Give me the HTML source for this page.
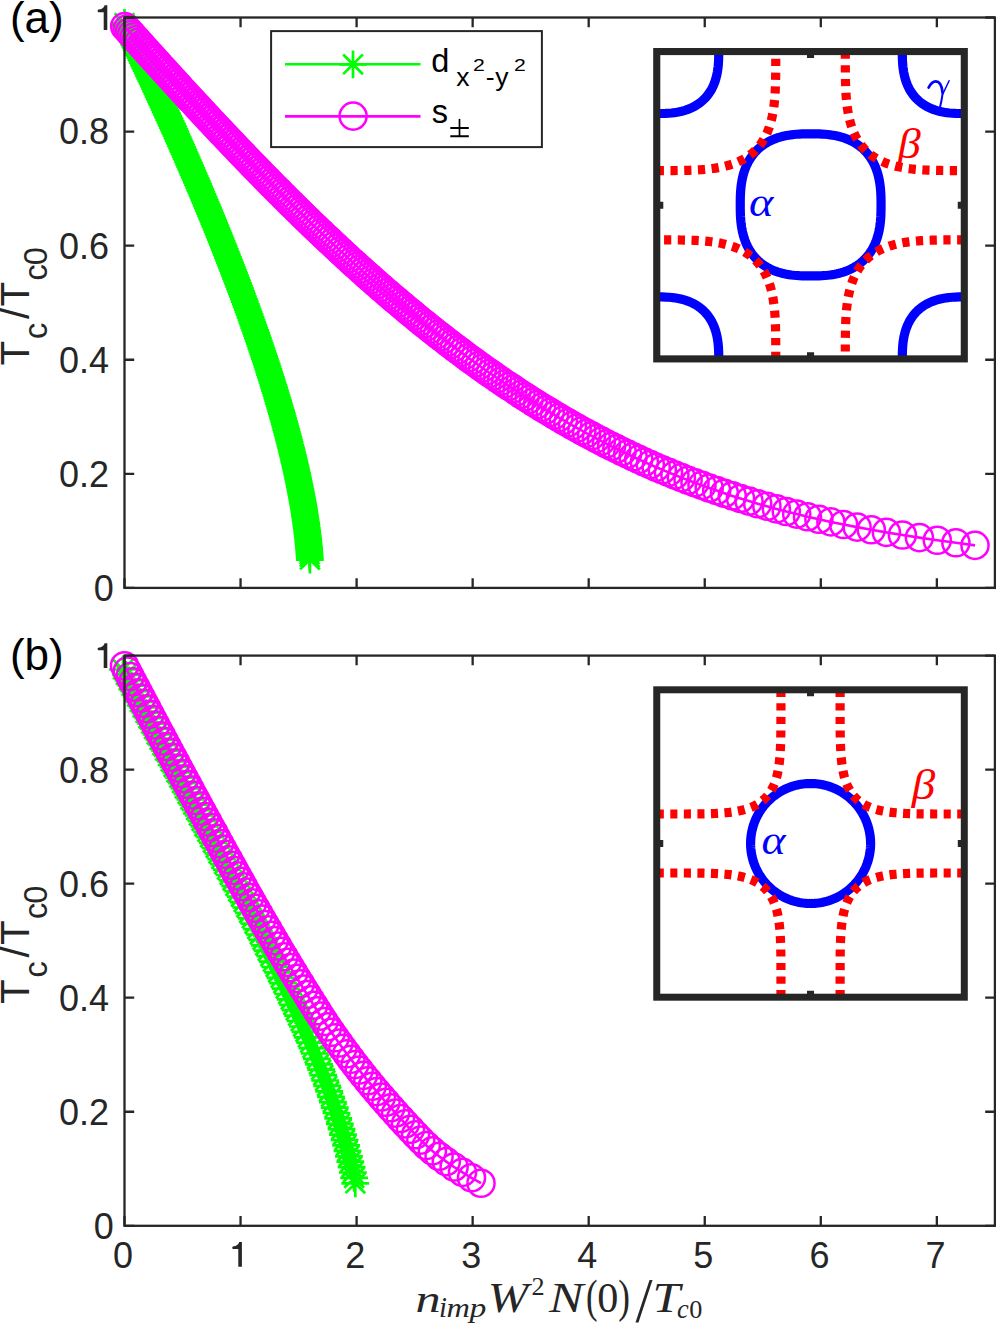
<!DOCTYPE html><html><head><meta charset="utf-8"><style>html,body{margin:0;padding:0;background:#fff}svg{display:block}</style></head><body><svg width="996" height="1323" viewBox="0 0 996 1323">
<rect width="996" height="1323" fill="#fff"/>
<text x="113.9" y="600.80" text-anchor="end" font-family="Liberation Sans, sans-serif" font-size="36" fill="#262626">0</text>
<text x="109.0" y="486.72" text-anchor="end" font-family="Liberation Sans, sans-serif" font-size="36" fill="#262626">0.2</text>
<text x="109.0" y="372.64" text-anchor="end" font-family="Liberation Sans, sans-serif" font-size="36" fill="#262626">0.4</text>
<text x="109.0" y="258.56" text-anchor="end" font-family="Liberation Sans, sans-serif" font-size="36" fill="#262626">0.6</text>
<text x="109.0" y="144.48" text-anchor="end" font-family="Liberation Sans, sans-serif" font-size="36" fill="#262626">0.8</text>
<path d="M107.30 5.20h-2.7q-0.9 3.9 -6.3 4.4q-0.65 0.1 -0.65 1.3q0 1.3 0.9 1.3h5.15V29.90H107.30Z" fill="#262626"/>
<path d="M124.5 23.0L125.7 25.6L126.9 28.2L128.2 30.8L129.4 33.4L130.6 36.0L131.9 38.6L133.1 41.2L134.4 43.8L135.6 46.4L136.8 49.0L138.1 51.7L139.3 54.3L140.5 56.9L141.8 59.5L143.0 62.1L144.2 64.7L145.4 67.3L146.6 69.9L147.9 72.5L149.1 75.1L150.3 77.7L151.5 80.3L152.7 82.9L153.9 85.5L155.1 88.1L156.3 90.7L157.5 93.3L158.7 95.9L159.9 98.5L161.1 101.1L162.3 103.8L163.5 106.4L164.7 109.0L165.9 111.6L167.0 114.2L168.2 116.8L169.4 119.4L170.6 122.0L171.7 124.6L172.9 127.2L174.1 129.8L175.2 132.4L176.4 135.0L177.6 137.6L178.7 140.2L179.9 142.8L181.0 145.4L182.2 148.0L183.3 150.6L184.5 153.2L185.6 155.8L186.7 158.5L187.9 161.1L189.0 163.7L190.1 166.3L191.3 168.9L192.4 171.5L193.5 174.1L194.6 176.7L195.8 179.3L196.9 181.9L198.0 184.5L199.1 187.1L200.2 189.7L201.3 192.3L202.4 194.9L203.5 197.5L204.6 200.1L205.7 202.7L206.8 205.3L207.9 207.9L209.0 210.5L210.0 213.2L211.1 215.8L212.2 218.4L213.3 221.0L214.3 223.6L215.4 226.2L216.5 228.8L217.5 231.4L218.6 234.0L219.6 236.6L220.7 239.2L221.7 241.8L222.8 244.4L223.8 247.0L224.8 249.6L225.9 252.2L226.9 254.8L227.9 257.4L229.0 260.0L230.0 262.6L231.0 265.3L232.0 267.9L233.0 270.5L234.0 273.1L235.0 275.7L236.0 278.3L237.0 280.9L238.0 283.5L239.0 286.1L240.0 288.7L241.0 291.3L241.9 293.9L242.9 296.5L243.9 299.1L244.8 301.7L245.8 304.3L246.7 306.9L247.7 309.5L248.6 312.1L249.6 314.7L250.5 317.3L251.5 320.0L252.4 322.6L253.3 325.2L254.2 327.8L255.2 330.4L256.1 333.0L257.0 335.6L257.9 338.2L258.8 340.8L259.7 343.4L260.6 346.0L261.4 348.6L262.3 351.2L263.2 353.8L264.1 356.4L264.9 359.0L265.8 361.6L266.7 364.2L267.5 366.8L268.4 369.4L269.2 372.1L270.0 374.7L270.9 377.3L271.7 379.9L272.5 382.5L273.3 385.1L274.1 387.7L274.9 390.3L275.7 392.9L276.5 395.5L277.3 398.1L278.1 400.7L278.8 403.3L279.6 405.9L280.4 408.5L281.1 411.1L281.9 413.7L282.6 416.3L283.3 418.9L284.1 421.5L284.8 424.1L285.5 426.8L286.2 429.4L286.9 432.0L287.6 434.6L288.3 437.2L289.0 439.8L289.6 442.4L290.3 445.0L291.0 447.6L291.6 450.2L292.2 452.8L292.9 455.4L293.5 458.0L294.1 460.6L294.7 463.2L295.3 465.8L295.9 468.4L296.5 471.0L297.1 473.6L297.6 476.2L298.2 478.8L298.7 481.5L299.3 484.1L299.8 486.7L300.3 489.3L300.8 491.9L301.3 494.5L301.8 497.1L302.3 499.7L302.8 502.3L303.2 504.9L303.7 507.5L304.1 510.1L304.5 512.7L304.9 515.3L305.3 517.9L305.7 520.5L306.1 523.1L306.4 525.7L306.8 528.3L307.1 530.9L307.4 533.6L307.8 536.2L308.1 538.8L308.3 541.4L308.6 544.0L308.9 546.6L309.1 549.2L309.3 551.8L309.5 554.4L309.7 557.0L309.9 559.6" fill="none" stroke="#00ff00" stroke-width="2.6" stroke-linejoin="round"/>
<path d="M110.6 23.0h27.8M124.5 9.1v27.8M114.7 13.2l19.7 19.7M114.7 32.8l19.7 -19.7M111.8 25.6h27.8M125.7 11.7v27.8M115.8 15.8l19.7 19.7M115.8 35.4l19.7 -19.7M113.0 28.2h27.8M126.9 14.3v27.8M117.1 18.4l19.7 19.7M117.1 38.0l19.7 -19.7M114.3 30.8h27.8M128.2 16.9v27.8M118.3 21.0l19.7 19.7M118.3 40.6l19.7 -19.7M115.5 33.4h27.8M129.4 19.5v27.8M119.6 23.6l19.7 19.7M119.6 43.2l19.7 -19.7M116.7 36.0h27.8M130.6 22.1v27.8M120.8 26.2l19.7 19.7M120.8 45.9l19.7 -19.7M118.0 38.6h27.8M131.9 24.7v27.8M122.1 28.8l19.7 19.7M122.1 48.5l19.7 -19.7M119.2 41.2h27.8M133.1 27.3v27.8M123.3 31.4l19.7 19.7M123.3 51.1l19.7 -19.7M120.5 43.8h27.8M134.4 29.9v27.8M124.5 34.0l19.7 19.7M124.5 53.7l19.7 -19.7M121.7 46.4h27.8M135.6 32.5v27.8M125.8 36.6l19.7 19.7M125.8 56.3l19.7 -19.7M122.9 49.0h27.8M136.8 35.1v27.8M127.0 39.2l19.7 19.7M127.0 58.9l19.7 -19.7M124.2 51.7h27.8M138.1 37.8v27.8M128.2 41.8l19.7 19.7M128.2 61.5l19.7 -19.7M125.4 54.3h27.8M139.3 40.4v27.8M129.5 44.4l19.7 19.7M129.5 64.1l19.7 -19.7M126.6 56.9h27.8M140.5 43.0v27.8M130.7 47.0l19.7 19.7M130.7 66.7l19.7 -19.7M127.9 59.5h27.8M141.8 45.6v27.8M131.9 49.6l19.7 19.7M131.9 69.3l19.7 -19.7M129.1 62.1h27.8M143.0 48.2v27.8M133.2 52.2l19.7 19.7M133.2 71.9l19.7 -19.7M130.3 64.7h27.8M144.2 50.8v27.8M134.4 54.8l19.7 19.7M134.4 74.5l19.7 -19.7M131.5 67.3h27.8M145.4 53.4v27.8M135.6 57.5l19.7 19.7M135.6 77.1l19.7 -19.7M132.7 69.9h27.8M146.6 56.0v27.8M136.8 60.1l19.7 19.7M136.8 79.7l19.7 -19.7M134.0 72.5h27.8M147.9 58.6v27.8M138.0 62.7l19.7 19.7M138.0 82.3l19.7 -19.7M135.2 75.1h27.8M149.1 61.2v27.8M139.3 65.3l19.7 19.7M139.3 84.9l19.7 -19.7M136.4 77.7h27.8M150.3 63.8v27.8M140.5 67.9l19.7 19.7M140.5 87.5l19.7 -19.7M137.6 80.3h27.8M151.5 66.4v27.8M141.7 70.5l19.7 19.7M141.7 90.1l19.7 -19.7M138.8 82.9h27.8M152.7 69.0v27.8M142.9 73.1l19.7 19.7M142.9 92.7l19.7 -19.7M140.0 85.5h27.8M153.9 71.6v27.8M144.1 75.7l19.7 19.7M144.1 95.3l19.7 -19.7M141.2 88.1h27.8M155.1 74.2v27.8M145.3 78.3l19.7 19.7M145.3 98.0l19.7 -19.7M142.4 90.7h27.8M156.3 76.8v27.8M146.5 80.9l19.7 19.7M146.5 100.6l19.7 -19.7M143.6 93.3h27.8M157.5 79.4v27.8M147.7 83.5l19.7 19.7M147.7 103.2l19.7 -19.7M144.8 95.9h27.8M158.7 82.0v27.8M148.9 86.1l19.7 19.7M148.9 105.8l19.7 -19.7M146.0 98.5h27.8M159.9 84.6v27.8M150.1 88.7l19.7 19.7M150.1 108.4l19.7 -19.7M147.2 101.1h27.8M161.1 87.2v27.8M151.3 91.3l19.7 19.7M151.3 111.0l19.7 -19.7M148.4 103.8h27.8M162.3 89.9v27.8M152.5 93.9l19.7 19.7M152.5 113.6l19.7 -19.7M149.6 106.4h27.8M163.5 92.5v27.8M153.7 96.5l19.7 19.7M153.7 116.2l19.7 -19.7M150.8 109.0h27.8M164.7 95.1v27.8M154.8 99.1l19.7 19.7M154.8 118.8l19.7 -19.7M152.0 111.6h27.8M165.9 97.7v27.8M156.0 101.7l19.7 19.7M156.0 121.4l19.7 -19.7M153.1 114.2h27.8M167.0 100.3v27.8M157.2 104.3l19.7 19.7M157.2 124.0l19.7 -19.7M154.3 116.8h27.8M168.2 102.9v27.8M158.4 106.9l19.7 19.7M158.4 126.6l19.7 -19.7M155.5 119.4h27.8M169.4 105.5v27.8M159.6 109.6l19.7 19.7M159.6 129.2l19.7 -19.7M156.7 122.0h27.8M170.6 108.1v27.8M160.7 112.2l19.7 19.7M160.7 131.8l19.7 -19.7M157.8 124.6h27.8M171.7 110.7v27.8M161.9 114.8l19.7 19.7M161.9 134.4l19.7 -19.7M159.0 127.2h27.8M172.9 113.3v27.8M163.1 117.4l19.7 19.7M163.1 137.0l19.7 -19.7M160.2 129.8h27.8M174.1 115.9v27.8M164.2 120.0l19.7 19.7M164.2 139.6l19.7 -19.7M161.3 132.4h27.8M175.2 118.5v27.8M165.4 122.6l19.7 19.7M165.4 142.2l19.7 -19.7M162.5 135.0h27.8M176.4 121.1v27.8M166.6 125.2l19.7 19.7M166.6 144.8l19.7 -19.7M163.7 137.6h27.8M177.6 123.7v27.8M167.7 127.8l19.7 19.7M167.7 147.4l19.7 -19.7M164.8 140.2h27.8M178.7 126.3v27.8M168.9 130.4l19.7 19.7M168.9 150.0l19.7 -19.7M166.0 142.8h27.8M179.9 128.9v27.8M170.0 133.0l19.7 19.7M170.0 152.7l19.7 -19.7M167.1 145.4h27.8M181.0 131.5v27.8M171.2 135.6l19.7 19.7M171.2 155.3l19.7 -19.7M168.3 148.0h27.8M182.2 134.1v27.8M172.3 138.2l19.7 19.7M172.3 157.9l19.7 -19.7M169.4 150.6h27.8M183.3 136.7v27.8M173.5 140.8l19.7 19.7M173.5 160.5l19.7 -19.7M170.6 153.2h27.8M184.5 139.3v27.8M174.6 143.4l19.7 19.7M174.6 163.1l19.7 -19.7M171.7 155.8h27.8M185.6 141.9v27.8M175.8 146.0l19.7 19.7M175.8 165.7l19.7 -19.7M172.8 158.5h27.8M186.7 144.6v27.8M176.9 148.6l19.7 19.7M176.9 168.3l19.7 -19.7M174.0 161.1h27.8M187.9 147.2v27.8M178.0 151.2l19.7 19.7M178.0 170.9l19.7 -19.7M175.1 163.7h27.8M189.0 149.8v27.8M179.2 153.8l19.7 19.7M179.2 173.5l19.7 -19.7M176.2 166.3h27.8M190.1 152.4v27.8M180.3 156.4l19.7 19.7M180.3 176.1l19.7 -19.7M177.4 168.9h27.8M191.3 155.0v27.8M181.4 159.0l19.7 19.7M181.4 178.7l19.7 -19.7M178.5 171.5h27.8M192.4 157.6v27.8M182.6 161.6l19.7 19.7M182.6 181.3l19.7 -19.7M179.6 174.1h27.8M193.5 160.2v27.8M183.7 164.3l19.7 19.7M183.7 183.9l19.7 -19.7M180.7 176.7h27.8M194.6 162.8v27.8M184.8 166.9l19.7 19.7M184.8 186.5l19.7 -19.7M181.9 179.3h27.8M195.8 165.4v27.8M185.9 169.5l19.7 19.7M185.9 189.1l19.7 -19.7M183.0 181.9h27.8M196.9 168.0v27.8M187.0 172.1l19.7 19.7M187.0 191.7l19.7 -19.7M184.1 184.5h27.8M198.0 170.6v27.8M188.2 174.7l19.7 19.7M188.2 194.3l19.7 -19.7M185.2 187.1h27.8M199.1 173.2v27.8M189.3 177.3l19.7 19.7M189.3 196.9l19.7 -19.7M186.3 189.7h27.8M200.2 175.8v27.8M190.4 179.9l19.7 19.7M190.4 199.5l19.7 -19.7M187.4 192.3h27.8M201.3 178.4v27.8M191.5 182.5l19.7 19.7M191.5 202.1l19.7 -19.7M188.5 194.9h27.8M202.4 181.0v27.8M192.6 185.1l19.7 19.7M192.6 204.7l19.7 -19.7M189.6 197.5h27.8M203.5 183.6v27.8M193.7 187.7l19.7 19.7M193.7 207.4l19.7 -19.7M190.7 200.1h27.8M204.6 186.2v27.8M194.8 190.3l19.7 19.7M194.8 210.0l19.7 -19.7M191.8 202.7h27.8M205.7 188.8v27.8M195.9 192.9l19.7 19.7M195.9 212.6l19.7 -19.7M192.9 205.3h27.8M206.8 191.4v27.8M197.0 195.5l19.7 19.7M197.0 215.2l19.7 -19.7M194.0 207.9h27.8M207.9 194.0v27.8M198.0 198.1l19.7 19.7M198.0 217.8l19.7 -19.7M195.1 210.5h27.8M209.0 196.6v27.8M199.1 200.7l19.7 19.7M199.1 220.4l19.7 -19.7M196.1 213.2h27.8M210.0 199.3v27.8M200.2 203.3l19.7 19.7M200.2 223.0l19.7 -19.7M197.2 215.8h27.8M211.1 201.9v27.8M201.3 205.9l19.7 19.7M201.3 225.6l19.7 -19.7M198.3 218.4h27.8M212.2 204.5v27.8M202.4 208.5l19.7 19.7M202.4 228.2l19.7 -19.7M199.4 221.0h27.8M213.3 207.1v27.8M203.4 211.1l19.7 19.7M203.4 230.8l19.7 -19.7M200.4 223.6h27.8M214.3 209.7v27.8M204.5 213.7l19.7 19.7M204.5 233.4l19.7 -19.7M201.5 226.2h27.8M215.4 212.3v27.8M205.6 216.3l19.7 19.7M205.6 236.0l19.7 -19.7M202.6 228.8h27.8M216.5 214.9v27.8M206.6 219.0l19.7 19.7M206.6 238.6l19.7 -19.7M203.6 231.4h27.8M217.5 217.5v27.8M207.7 221.6l19.7 19.7M207.7 241.2l19.7 -19.7M204.7 234.0h27.8M218.6 220.1v27.8M208.7 224.2l19.7 19.7M208.7 243.8l19.7 -19.7M205.7 236.6h27.8M219.6 222.7v27.8M209.8 226.8l19.7 19.7M209.8 246.4l19.7 -19.7M206.8 239.2h27.8M220.7 225.3v27.8M210.8 229.4l19.7 19.7M210.8 249.0l19.7 -19.7M207.8 241.8h27.8M221.7 227.9v27.8M211.9 232.0l19.7 19.7M211.9 251.6l19.7 -19.7M208.9 244.4h27.8M222.8 230.5v27.8M212.9 234.6l19.7 19.7M212.9 254.2l19.7 -19.7M209.9 247.0h27.8M223.8 233.1v27.8M214.0 237.2l19.7 19.7M214.0 256.8l19.7 -19.7M210.9 249.6h27.8M224.8 235.7v27.8M215.0 239.8l19.7 19.7M215.0 259.5l19.7 -19.7M212.0 252.2h27.8M225.9 238.3v27.8M216.0 242.4l19.7 19.7M216.0 262.1l19.7 -19.7M213.0 254.8h27.8M226.9 240.9v27.8M217.1 245.0l19.7 19.7M217.1 264.7l19.7 -19.7M214.0 257.4h27.8M227.9 243.5v27.8M218.1 247.6l19.7 19.7M218.1 267.3l19.7 -19.7M215.1 260.0h27.8M229.0 246.1v27.8M219.1 250.2l19.7 19.7M219.1 269.9l19.7 -19.7M216.1 262.6h27.8M230.0 248.7v27.8M220.1 252.8l19.7 19.7M220.1 272.5l19.7 -19.7M217.1 265.3h27.8M231.0 251.4v27.8M221.2 255.4l19.7 19.7M221.2 275.1l19.7 -19.7M218.1 267.9h27.8M232.0 254.0v27.8M222.2 258.0l19.7 19.7M222.2 277.7l19.7 -19.7M219.1 270.5h27.8M233.0 256.6v27.8M223.2 260.6l19.7 19.7M223.2 280.3l19.7 -19.7M220.1 273.1h27.8M234.0 259.2v27.8M224.2 263.2l19.7 19.7M224.2 282.9l19.7 -19.7M221.1 275.7h27.8M235.0 261.8v27.8M225.2 265.8l19.7 19.7M225.2 285.5l19.7 -19.7M222.1 278.3h27.8M236.0 264.4v27.8M226.2 268.4l19.7 19.7M226.2 288.1l19.7 -19.7M223.1 280.9h27.8M237.0 267.0v27.8M227.2 271.1l19.7 19.7M227.2 290.7l19.7 -19.7M224.1 283.5h27.8M238.0 269.6v27.8M228.2 273.7l19.7 19.7M228.2 293.3l19.7 -19.7M225.1 286.1h27.8M239.0 272.2v27.8M229.2 276.3l19.7 19.7M229.2 295.9l19.7 -19.7M226.1 288.7h27.8M240.0 274.8v27.8M230.1 278.9l19.7 19.7M230.1 298.5l19.7 -19.7M227.1 291.3h27.8M241.0 277.4v27.8M231.1 281.5l19.7 19.7M231.1 301.1l19.7 -19.7M228.0 293.9h27.8M241.9 280.0v27.8M232.1 284.1l19.7 19.7M232.1 303.7l19.7 -19.7M229.0 296.5h27.8M242.9 282.6v27.8M233.1 286.7l19.7 19.7M233.1 306.3l19.7 -19.7M230.0 299.1h27.8M243.9 285.2v27.8M234.0 289.3l19.7 19.7M234.0 308.9l19.7 -19.7M230.9 301.7h27.8M244.8 287.8v27.8M235.0 291.9l19.7 19.7M235.0 311.5l19.7 -19.7M231.9 304.3h27.8M245.8 290.4v27.8M236.0 294.5l19.7 19.7M236.0 314.2l19.7 -19.7M232.8 306.9h27.8M246.7 293.0v27.8M236.9 297.1l19.7 19.7M236.9 316.8l19.7 -19.7M233.8 309.5h27.8M247.7 295.6v27.8M237.9 299.7l19.7 19.7M237.9 319.4l19.7 -19.7M234.7 312.1h27.8M248.6 298.2v27.8M238.8 302.3l19.7 19.7M238.8 322.0l19.7 -19.7M235.7 314.7h27.8M249.6 300.8v27.8M239.8 304.9l19.7 19.7M239.8 324.6l19.7 -19.7M236.6 317.3h27.8M250.5 303.4v27.8M240.7 307.5l19.7 19.7M240.7 327.2l19.7 -19.7M237.6 320.0h27.8M251.5 306.1v27.8M241.6 310.1l19.7 19.7M241.6 329.8l19.7 -19.7M238.5 322.6h27.8M252.4 308.7v27.8M242.6 312.7l19.7 19.7M242.6 332.4l19.7 -19.7M239.4 325.2h27.8M253.3 311.3v27.8M243.5 315.3l19.7 19.7M243.5 335.0l19.7 -19.7M240.3 327.8h27.8M254.2 313.9v27.8M244.4 317.9l19.7 19.7M244.4 337.6l19.7 -19.7M241.3 330.4h27.8M255.2 316.5v27.8M245.3 320.5l19.7 19.7M245.3 340.2l19.7 -19.7M242.2 333.0h27.8M256.1 319.1v27.8M246.2 323.1l19.7 19.7M246.2 342.8l19.7 -19.7M243.1 335.6h27.8M257.0 321.7v27.8M247.1 325.8l19.7 19.7M247.1 345.4l19.7 -19.7M244.0 338.2h27.8M257.9 324.3v27.8M248.1 328.4l19.7 19.7M248.1 348.0l19.7 -19.7M244.9 340.8h27.8M258.8 326.9v27.8M249.0 331.0l19.7 19.7M249.0 350.6l19.7 -19.7M245.8 343.4h27.8M259.7 329.5v27.8M249.8 333.6l19.7 19.7M249.8 353.2l19.7 -19.7M246.7 346.0h27.8M260.6 332.1v27.8M250.7 336.2l19.7 19.7M250.7 355.8l19.7 -19.7M247.5 348.6h27.8M261.4 334.7v27.8M251.6 338.8l19.7 19.7M251.6 358.4l19.7 -19.7M248.4 351.2h27.8M262.3 337.3v27.8M252.5 341.4l19.7 19.7M252.5 361.0l19.7 -19.7M249.3 353.8h27.8M263.2 339.9v27.8M253.4 344.0l19.7 19.7M253.4 363.6l19.7 -19.7M250.2 356.4h27.8M264.1 342.5v27.8M254.2 346.6l19.7 19.7M254.2 366.3l19.7 -19.7M251.0 359.0h27.8M264.9 345.1v27.8M255.1 349.2l19.7 19.7M255.1 368.9l19.7 -19.7M251.9 361.6h27.8M265.8 347.7v27.8M256.0 351.8l19.7 19.7M256.0 371.5l19.7 -19.7M252.8 364.2h27.8M266.7 350.3v27.8M256.8 354.4l19.7 19.7M256.8 374.1l19.7 -19.7M253.6 366.8h27.8M267.5 352.9v27.8M257.7 357.0l19.7 19.7M257.7 376.7l19.7 -19.7M254.5 369.4h27.8M268.4 355.5v27.8M258.5 359.6l19.7 19.7M258.5 379.3l19.7 -19.7M255.3 372.1h27.8M269.2 358.2v27.8M259.4 362.2l19.7 19.7M259.4 381.9l19.7 -19.7M256.1 374.7h27.8M270.0 360.8v27.8M260.2 364.8l19.7 19.7M260.2 384.5l19.7 -19.7M257.0 377.3h27.8M270.9 363.4v27.8M261.0 367.4l19.7 19.7M261.0 387.1l19.7 -19.7M257.8 379.9h27.8M271.7 366.0v27.8M261.9 370.0l19.7 19.7M261.9 389.7l19.7 -19.7M258.6 382.5h27.8M272.5 368.6v27.8M262.7 372.6l19.7 19.7M262.7 392.3l19.7 -19.7M259.4 385.1h27.8M273.3 371.2v27.8M263.5 375.2l19.7 19.7M263.5 394.9l19.7 -19.7M260.2 387.7h27.8M274.1 373.8v27.8M264.3 377.9l19.7 19.7M264.3 397.5l19.7 -19.7M261.0 390.3h27.8M274.9 376.4v27.8M265.1 380.5l19.7 19.7M265.1 400.1l19.7 -19.7M261.8 392.9h27.8M275.7 379.0v27.8M265.9 383.1l19.7 19.7M265.9 402.7l19.7 -19.7M262.6 395.5h27.8M276.5 381.6v27.8M266.7 385.7l19.7 19.7M266.7 405.3l19.7 -19.7M263.4 398.1h27.8M277.3 384.2v27.8M267.5 388.3l19.7 19.7M267.5 407.9l19.7 -19.7M264.2 400.7h27.8M278.1 386.8v27.8M268.2 390.9l19.7 19.7M268.2 410.5l19.7 -19.7M264.9 403.3h27.8M278.8 389.4v27.8M269.0 393.5l19.7 19.7M269.0 413.1l19.7 -19.7M265.7 405.9h27.8M279.6 392.0v27.8M269.8 396.1l19.7 19.7M269.8 415.7l19.7 -19.7M266.5 408.5h27.8M280.4 394.6v27.8M270.5 398.7l19.7 19.7M270.5 418.3l19.7 -19.7M267.2 411.1h27.8M281.1 397.2v27.8M271.3 401.3l19.7 19.7M271.3 421.0l19.7 -19.7M268.0 413.7h27.8M281.9 399.8v27.8M272.0 403.9l19.7 19.7M272.0 423.6l19.7 -19.7M268.7 416.3h27.8M282.6 402.4v27.8M272.8 406.5l19.7 19.7M272.8 426.2l19.7 -19.7M269.4 418.9h27.8M283.3 405.0v27.8M273.5 409.1l19.7 19.7M273.5 428.8l19.7 -19.7M270.2 421.5h27.8M284.1 407.6v27.8M274.2 411.7l19.7 19.7M274.2 431.4l19.7 -19.7M270.9 424.1h27.8M284.8 410.2v27.8M275.0 414.3l19.7 19.7M275.0 434.0l19.7 -19.7M271.6 426.8h27.8M285.5 412.9v27.8M275.7 416.9l19.7 19.7M275.7 436.6l19.7 -19.7M272.3 429.4h27.8M286.2 415.5v27.8M276.4 419.5l19.7 19.7M276.4 439.2l19.7 -19.7M273.0 432.0h27.8M286.9 418.1v27.8M277.1 422.1l19.7 19.7M277.1 441.8l19.7 -19.7M273.7 434.6h27.8M287.6 420.7v27.8M277.8 424.7l19.7 19.7M277.8 444.4l19.7 -19.7M274.4 437.2h27.8M288.3 423.3v27.8M278.5 427.3l19.7 19.7M278.5 447.0l19.7 -19.7M275.1 439.8h27.8M289.0 425.9v27.8M279.1 429.9l19.7 19.7M279.1 449.6l19.7 -19.7M275.7 442.4h27.8M289.6 428.5v27.8M279.8 432.6l19.7 19.7M279.8 452.2l19.7 -19.7M276.4 445.0h27.8M290.3 431.1v27.8M280.5 435.2l19.7 19.7M280.5 454.8l19.7 -19.7M277.1 447.6h27.8M291.0 433.7v27.8M281.1 437.8l19.7 19.7M281.1 457.4l19.7 -19.7M277.7 450.2h27.8M291.6 436.3v27.8M281.8 440.4l19.7 19.7M281.8 460.0l19.7 -19.7M278.3 452.8h27.8M292.2 438.9v27.8M282.4 443.0l19.7 19.7M282.4 462.6l19.7 -19.7M279.0 455.4h27.8M292.9 441.5v27.8M283.1 445.6l19.7 19.7M283.1 465.2l19.7 -19.7M279.6 458.0h27.8M293.5 444.1v27.8M283.7 448.2l19.7 19.7M283.7 467.8l19.7 -19.7M280.2 460.6h27.8M294.1 446.7v27.8M284.3 450.8l19.7 19.7M284.3 470.4l19.7 -19.7M280.8 463.2h27.8M294.7 449.3v27.8M284.9 453.4l19.7 19.7M284.9 473.0l19.7 -19.7M281.4 465.8h27.8M295.3 451.9v27.8M285.5 456.0l19.7 19.7M285.5 475.7l19.7 -19.7M282.0 468.4h27.8M295.9 454.5v27.8M286.1 458.6l19.7 19.7M286.1 478.3l19.7 -19.7M282.6 471.0h27.8M296.5 457.1v27.8M286.7 461.2l19.7 19.7M286.7 480.9l19.7 -19.7M283.2 473.6h27.8M297.1 459.7v27.8M287.2 463.8l19.7 19.7M287.2 483.5l19.7 -19.7M283.7 476.2h27.8M297.6 462.3v27.8M287.8 466.4l19.7 19.7M287.8 486.1l19.7 -19.7M284.3 478.8h27.8M298.2 464.9v27.8M288.4 469.0l19.7 19.7M288.4 488.7l19.7 -19.7M284.8 481.5h27.8M298.7 467.6v27.8M288.9 471.6l19.7 19.7M288.9 491.3l19.7 -19.7M285.4 484.1h27.8M299.3 470.2v27.8M289.4 474.2l19.7 19.7M289.4 493.9l19.7 -19.7M285.9 486.7h27.8M299.8 472.8v27.8M290.0 476.8l19.7 19.7M290.0 496.5l19.7 -19.7M286.4 489.3h27.8M300.3 475.4v27.8M290.5 479.4l19.7 19.7M290.5 499.1l19.7 -19.7M286.9 491.9h27.8M300.8 478.0v27.8M291.0 482.0l19.7 19.7M291.0 501.7l19.7 -19.7M287.4 494.5h27.8M301.3 480.6v27.8M291.5 484.6l19.7 19.7M291.5 504.3l19.7 -19.7M287.9 497.1h27.8M301.8 483.2v27.8M292.0 487.3l19.7 19.7M292.0 506.9l19.7 -19.7M288.4 499.7h27.8M302.3 485.8v27.8M292.5 489.9l19.7 19.7M292.5 509.5l19.7 -19.7M288.9 502.3h27.8M302.8 488.4v27.8M292.9 492.5l19.7 19.7M292.9 512.1l19.7 -19.7M289.3 504.9h27.8M303.2 491.0v27.8M293.4 495.1l19.7 19.7M293.4 514.7l19.7 -19.7M289.8 507.5h27.8M303.7 493.6v27.8M293.8 497.7l19.7 19.7M293.8 517.3l19.7 -19.7M290.2 510.1h27.8M304.1 496.2v27.8M294.3 500.3l19.7 19.7M294.3 519.9l19.7 -19.7M290.6 512.7h27.8M304.5 498.8v27.8M294.7 502.9l19.7 19.7M294.7 522.5l19.7 -19.7M291.0 515.3h27.8M304.9 501.4v27.8M295.1 505.5l19.7 19.7M295.1 525.1l19.7 -19.7M291.4 517.9h27.8M305.3 504.0v27.8M295.5 508.1l19.7 19.7M295.5 527.8l19.7 -19.7M291.8 520.5h27.8M305.7 506.6v27.8M295.9 510.7l19.7 19.7M295.9 530.4l19.7 -19.7M292.2 523.1h27.8M306.1 509.2v27.8M296.2 513.3l19.7 19.7M296.2 533.0l19.7 -19.7M292.5 525.7h27.8M306.4 511.8v27.8M296.6 515.9l19.7 19.7M296.6 535.6l19.7 -19.7M292.9 528.3h27.8M306.8 514.4v27.8M297.0 518.5l19.7 19.7M297.0 538.2l19.7 -19.7M293.2 530.9h27.8M307.1 517.0v27.8M297.3 521.1l19.7 19.7M297.3 540.8l19.7 -19.7M293.5 533.6h27.8M307.4 519.7v27.8M297.6 523.7l19.7 19.7M297.6 543.4l19.7 -19.7M293.9 536.2h27.8M307.8 522.3v27.8M297.9 526.3l19.7 19.7M297.9 546.0l19.7 -19.7M294.2 538.8h27.8M308.1 524.9v27.8M298.2 528.9l19.7 19.7M298.2 548.6l19.7 -19.7M294.4 541.4h27.8M308.3 527.5v27.8M298.5 531.5l19.7 19.7M298.5 551.2l19.7 -19.7M294.7 544.0h27.8M308.6 530.1v27.8M298.8 534.1l19.7 19.7M298.8 553.8l19.7 -19.7M295.0 546.6h27.8M308.9 532.7v27.8M299.0 536.7l19.7 19.7M299.0 556.4l19.7 -19.7M295.2 549.2h27.8M309.1 535.3v27.8M299.3 539.4l19.7 19.7M299.3 559.0l19.7 -19.7M295.4 551.8h27.8M309.3 537.9v27.8M299.5 542.0l19.7 19.7M299.5 561.6l19.7 -19.7M295.6 554.4h27.8M309.5 540.5v27.8M299.7 544.6l19.7 19.7M299.7 564.2l19.7 -19.7M295.8 557.0h27.8M309.7 543.1v27.8M299.9 547.2l19.7 19.7M299.9 566.8l19.7 -19.7M296.0 559.6h27.8M309.9 545.7v27.8M300.1 549.8l19.7 19.7M300.1 569.4l19.7 -19.7" fill="none" stroke="#00ff00" stroke-width="2.7"/>
<path d="M124.7 26.5L127.0 29.1L129.4 31.7L131.7 34.3L134.0 36.9L136.4 39.5L138.7 42.1L141.1 44.8L143.4 47.4L145.8 50.0L148.1 52.6L150.5 55.2L152.8 57.8L155.2 60.4L157.6 63.0L159.9 65.6L162.3 68.2L164.7 70.8L167.0 73.4L169.4 76.0L171.8 78.7L174.2 81.3L176.6 83.9L179.0 86.5L181.3 89.1L183.7 91.7L186.1 94.3L188.5 96.9L190.9 99.5L193.4 102.1L195.8 104.7L198.2 107.3L200.6 109.9L203.0 112.5L205.5 115.2L207.9 117.8L210.3 120.4L212.8 123.0L215.2 125.6L217.7 128.2L220.1 130.8L222.6 133.4L225.1 136.0L227.5 138.6L230.0 141.2L232.5 143.8L235.0 146.4L237.5 149.1L240.0 151.7L242.5 154.3L245.0 156.9L247.5 159.5L250.0 162.1L252.5 164.7L255.1 167.3L257.6 169.9L260.1 172.5L262.7 175.1L265.3 177.7L267.8 180.3L270.4 183.0L273.0 185.6L275.6 188.2L278.2 190.8L280.8 193.4L283.4 196.0L286.0 198.6L288.6 201.2L291.2 203.8L293.9 206.4L296.5 209.0L299.2 211.6L301.9 214.2L304.5 216.9L307.2 219.5L309.9 222.1L312.6 224.7L315.3 227.3L318.1 229.9L320.8 232.5L323.5 235.1L326.3 237.7L329.0 240.3L331.8 242.9L334.6 245.5L337.4 248.1L340.2 250.7L343.0 253.4L345.9 256.0L348.7 258.6L351.5 261.2L354.4 263.8L357.3 266.4L360.2 269.0L363.1 271.6L366.0 274.2L368.9 276.8L371.9 279.4L374.8 282.0L377.8 284.6L380.8 287.3L383.8 289.9L386.8 292.5L389.9 295.1L392.9 297.7L396.0 300.3L399.1 302.9L402.2 305.5L405.3 308.1L408.4 310.7L411.6 313.3L414.7 315.9L417.9 318.5L421.1 321.2L424.4 323.8L427.6 326.4L430.9 329.0L434.2 331.6L437.5 334.2L440.8 336.8L444.2 339.4L447.5 342.0L450.9 344.6L454.4 347.2L457.8 349.8L461.3 352.4L464.8 355.0L468.3 357.7L471.9 360.3L475.5 362.9L479.1 365.5L482.7 368.1L486.4 370.7L490.1 373.3L493.9 375.9L497.6 378.5L501.4 381.1L505.3 383.7L509.2 386.3L513.1 388.9L517.0 391.6L521.0 394.2L525.1 396.8L529.1 399.4L533.2 402.0L537.4 404.6L541.6 407.2L545.9 409.8L550.2 412.4L554.5 415.0L558.9 417.6L563.4 420.2L567.9 422.8L572.5 425.5L577.2 428.1L581.9 430.7L586.6 433.3L591.5 435.9L596.4 438.5L601.4 441.1L606.4 443.7L611.6 446.3L616.8 448.9L622.1 451.5L627.6 454.1L633.1 456.7L638.7 459.4L644.4 462.0L650.3 464.6L656.2 467.2L662.3 469.8L668.5 472.4L674.9 475.0L681.4 477.6L688.1 480.2L695.0 482.8L702.0 485.4L709.2 488.0L716.7 490.6L724.4 493.2L732.3 495.9L740.5 498.5L749.0 501.1L757.7 503.7L766.9 506.3L776.4 508.9L786.3 511.5L796.7 514.1L807.5 516.7L818.9 519.3L830.9 521.9L843.6 524.5L857.1 527.1L871.3 529.8L886.4 532.4L902.4 535.0L919.4 537.6L937.3 540.2L955.9 542.8L975.0 545.4" fill="none" stroke="#ff00ff" stroke-width="2.6" stroke-linejoin="round"/>
<g fill="none" stroke="#ff00ff" stroke-width="2.5">
<circle cx="124.7" cy="26.5" r="13.55"/><circle cx="127.0" cy="29.1" r="13.55"/><circle cx="129.4" cy="31.7" r="13.55"/><circle cx="131.7" cy="34.3" r="13.55"/><circle cx="134.0" cy="36.9" r="13.55"/><circle cx="136.4" cy="39.5" r="13.55"/><circle cx="138.7" cy="42.1" r="13.55"/><circle cx="141.1" cy="44.8" r="13.55"/><circle cx="143.4" cy="47.4" r="13.55"/><circle cx="145.8" cy="50.0" r="13.55"/><circle cx="148.1" cy="52.6" r="13.55"/><circle cx="150.5" cy="55.2" r="13.55"/><circle cx="152.8" cy="57.8" r="13.55"/><circle cx="155.2" cy="60.4" r="13.55"/><circle cx="157.6" cy="63.0" r="13.55"/><circle cx="159.9" cy="65.6" r="13.55"/><circle cx="162.3" cy="68.2" r="13.55"/><circle cx="164.7" cy="70.8" r="13.55"/><circle cx="167.0" cy="73.4" r="13.55"/><circle cx="169.4" cy="76.0" r="13.55"/><circle cx="171.8" cy="78.7" r="13.55"/><circle cx="174.2" cy="81.3" r="13.55"/><circle cx="176.6" cy="83.9" r="13.55"/><circle cx="179.0" cy="86.5" r="13.55"/><circle cx="181.3" cy="89.1" r="13.55"/><circle cx="183.7" cy="91.7" r="13.55"/><circle cx="186.1" cy="94.3" r="13.55"/><circle cx="188.5" cy="96.9" r="13.55"/><circle cx="190.9" cy="99.5" r="13.55"/><circle cx="193.4" cy="102.1" r="13.55"/><circle cx="195.8" cy="104.7" r="13.55"/><circle cx="198.2" cy="107.3" r="13.55"/><circle cx="200.6" cy="109.9" r="13.55"/><circle cx="203.0" cy="112.5" r="13.55"/><circle cx="205.5" cy="115.2" r="13.55"/><circle cx="207.9" cy="117.8" r="13.55"/><circle cx="210.3" cy="120.4" r="13.55"/><circle cx="212.8" cy="123.0" r="13.55"/><circle cx="215.2" cy="125.6" r="13.55"/><circle cx="217.7" cy="128.2" r="13.55"/><circle cx="220.1" cy="130.8" r="13.55"/><circle cx="222.6" cy="133.4" r="13.55"/><circle cx="225.1" cy="136.0" r="13.55"/><circle cx="227.5" cy="138.6" r="13.55"/><circle cx="230.0" cy="141.2" r="13.55"/><circle cx="232.5" cy="143.8" r="13.55"/><circle cx="235.0" cy="146.4" r="13.55"/><circle cx="237.5" cy="149.1" r="13.55"/><circle cx="240.0" cy="151.7" r="13.55"/><circle cx="242.5" cy="154.3" r="13.55"/><circle cx="245.0" cy="156.9" r="13.55"/><circle cx="247.5" cy="159.5" r="13.55"/><circle cx="250.0" cy="162.1" r="13.55"/><circle cx="252.5" cy="164.7" r="13.55"/><circle cx="255.1" cy="167.3" r="13.55"/><circle cx="257.6" cy="169.9" r="13.55"/><circle cx="260.1" cy="172.5" r="13.55"/><circle cx="262.7" cy="175.1" r="13.55"/><circle cx="265.3" cy="177.7" r="13.55"/><circle cx="267.8" cy="180.3" r="13.55"/><circle cx="270.4" cy="183.0" r="13.55"/><circle cx="273.0" cy="185.6" r="13.55"/><circle cx="275.6" cy="188.2" r="13.55"/><circle cx="278.2" cy="190.8" r="13.55"/><circle cx="280.8" cy="193.4" r="13.55"/><circle cx="283.4" cy="196.0" r="13.55"/><circle cx="286.0" cy="198.6" r="13.55"/><circle cx="288.6" cy="201.2" r="13.55"/><circle cx="291.2" cy="203.8" r="13.55"/><circle cx="293.9" cy="206.4" r="13.55"/><circle cx="296.5" cy="209.0" r="13.55"/><circle cx="299.2" cy="211.6" r="13.55"/><circle cx="301.9" cy="214.2" r="13.55"/><circle cx="304.5" cy="216.9" r="13.55"/><circle cx="307.2" cy="219.5" r="13.55"/><circle cx="309.9" cy="222.1" r="13.55"/><circle cx="312.6" cy="224.7" r="13.55"/><circle cx="315.3" cy="227.3" r="13.55"/><circle cx="318.1" cy="229.9" r="13.55"/><circle cx="320.8" cy="232.5" r="13.55"/><circle cx="323.5" cy="235.1" r="13.55"/><circle cx="326.3" cy="237.7" r="13.55"/><circle cx="329.0" cy="240.3" r="13.55"/><circle cx="331.8" cy="242.9" r="13.55"/><circle cx="334.6" cy="245.5" r="13.55"/><circle cx="337.4" cy="248.1" r="13.55"/><circle cx="340.2" cy="250.7" r="13.55"/><circle cx="343.0" cy="253.4" r="13.55"/><circle cx="345.9" cy="256.0" r="13.55"/><circle cx="348.7" cy="258.6" r="13.55"/><circle cx="351.5" cy="261.2" r="13.55"/><circle cx="354.4" cy="263.8" r="13.55"/><circle cx="357.3" cy="266.4" r="13.55"/><circle cx="360.2" cy="269.0" r="13.55"/><circle cx="363.1" cy="271.6" r="13.55"/><circle cx="366.0" cy="274.2" r="13.55"/><circle cx="368.9" cy="276.8" r="13.55"/><circle cx="371.9" cy="279.4" r="13.55"/><circle cx="374.8" cy="282.0" r="13.55"/><circle cx="377.8" cy="284.6" r="13.55"/><circle cx="380.8" cy="287.3" r="13.55"/><circle cx="383.8" cy="289.9" r="13.55"/><circle cx="386.8" cy="292.5" r="13.55"/><circle cx="389.9" cy="295.1" r="13.55"/><circle cx="392.9" cy="297.7" r="13.55"/><circle cx="396.0" cy="300.3" r="13.55"/><circle cx="399.1" cy="302.9" r="13.55"/><circle cx="402.2" cy="305.5" r="13.55"/><circle cx="405.3" cy="308.1" r="13.55"/><circle cx="408.4" cy="310.7" r="13.55"/><circle cx="411.6" cy="313.3" r="13.55"/><circle cx="414.7" cy="315.9" r="13.55"/><circle cx="417.9" cy="318.5" r="13.55"/><circle cx="421.1" cy="321.2" r="13.55"/><circle cx="424.4" cy="323.8" r="13.55"/><circle cx="427.6" cy="326.4" r="13.55"/><circle cx="430.9" cy="329.0" r="13.55"/><circle cx="434.2" cy="331.6" r="13.55"/><circle cx="437.5" cy="334.2" r="13.55"/><circle cx="440.8" cy="336.8" r="13.55"/><circle cx="444.2" cy="339.4" r="13.55"/><circle cx="447.5" cy="342.0" r="13.55"/><circle cx="450.9" cy="344.6" r="13.55"/><circle cx="454.4" cy="347.2" r="13.55"/><circle cx="457.8" cy="349.8" r="13.55"/><circle cx="461.3" cy="352.4" r="13.55"/><circle cx="464.8" cy="355.0" r="13.55"/><circle cx="468.3" cy="357.7" r="13.55"/><circle cx="471.9" cy="360.3" r="13.55"/><circle cx="475.5" cy="362.9" r="13.55"/><circle cx="479.1" cy="365.5" r="13.55"/><circle cx="482.7" cy="368.1" r="13.55"/><circle cx="486.4" cy="370.7" r="13.55"/><circle cx="490.1" cy="373.3" r="13.55"/><circle cx="493.9" cy="375.9" r="13.55"/><circle cx="497.6" cy="378.5" r="13.55"/><circle cx="501.4" cy="381.1" r="13.55"/><circle cx="505.3" cy="383.7" r="13.55"/><circle cx="509.2" cy="386.3" r="13.55"/><circle cx="513.1" cy="388.9" r="13.55"/><circle cx="517.0" cy="391.6" r="13.55"/><circle cx="521.0" cy="394.2" r="13.55"/><circle cx="525.1" cy="396.8" r="13.55"/><circle cx="529.1" cy="399.4" r="13.55"/><circle cx="533.2" cy="402.0" r="13.55"/><circle cx="537.4" cy="404.6" r="13.55"/><circle cx="541.6" cy="407.2" r="13.55"/><circle cx="545.9" cy="409.8" r="13.55"/><circle cx="550.2" cy="412.4" r="13.55"/><circle cx="554.5" cy="415.0" r="13.55"/><circle cx="558.9" cy="417.6" r="13.55"/><circle cx="563.4" cy="420.2" r="13.55"/><circle cx="567.9" cy="422.8" r="13.55"/><circle cx="572.5" cy="425.5" r="13.55"/><circle cx="577.2" cy="428.1" r="13.55"/><circle cx="581.9" cy="430.7" r="13.55"/><circle cx="586.6" cy="433.3" r="13.55"/><circle cx="591.5" cy="435.9" r="13.55"/><circle cx="596.4" cy="438.5" r="13.55"/><circle cx="601.4" cy="441.1" r="13.55"/><circle cx="606.4" cy="443.7" r="13.55"/><circle cx="611.6" cy="446.3" r="13.55"/><circle cx="616.8" cy="448.9" r="13.55"/><circle cx="622.1" cy="451.5" r="13.55"/><circle cx="627.6" cy="454.1" r="13.55"/><circle cx="633.1" cy="456.7" r="13.55"/><circle cx="638.7" cy="459.4" r="13.55"/><circle cx="644.4" cy="462.0" r="13.55"/><circle cx="650.3" cy="464.6" r="13.55"/><circle cx="656.2" cy="467.2" r="13.55"/><circle cx="662.3" cy="469.8" r="13.55"/><circle cx="668.5" cy="472.4" r="13.55"/><circle cx="674.9" cy="475.0" r="13.55"/><circle cx="681.4" cy="477.6" r="13.55"/><circle cx="688.1" cy="480.2" r="13.55"/><circle cx="695.0" cy="482.8" r="13.55"/><circle cx="702.0" cy="485.4" r="13.55"/><circle cx="709.2" cy="488.0" r="13.55"/><circle cx="716.7" cy="490.6" r="13.55"/><circle cx="724.4" cy="493.2" r="13.55"/><circle cx="732.3" cy="495.9" r="13.55"/><circle cx="740.5" cy="498.5" r="13.55"/><circle cx="749.0" cy="501.1" r="13.55"/><circle cx="757.7" cy="503.7" r="13.55"/><circle cx="766.9" cy="506.3" r="13.55"/><circle cx="776.4" cy="508.9" r="13.55"/><circle cx="786.3" cy="511.5" r="13.55"/><circle cx="796.7" cy="514.1" r="13.55"/><circle cx="807.5" cy="516.7" r="13.55"/><circle cx="818.9" cy="519.3" r="13.55"/><circle cx="830.9" cy="521.9" r="13.55"/><circle cx="843.6" cy="524.5" r="13.55"/><circle cx="857.1" cy="527.1" r="13.55"/><circle cx="871.3" cy="529.8" r="13.55"/><circle cx="886.4" cy="532.4" r="13.55"/><circle cx="902.4" cy="535.0" r="13.55"/><circle cx="919.4" cy="537.6" r="13.55"/><circle cx="937.3" cy="540.2" r="13.55"/><circle cx="955.9" cy="542.8" r="13.55"/><circle cx="975.0" cy="545.4" r="13.55"/>
</g>
<rect x="124.5" y="17.5" width="870.4" height="570.4" fill="none" stroke="#262626" stroke-width="2.3"/>
<path d="M124.50 587.9v-9.7M124.50 17.5v9.7M240.55 587.9v-9.7M240.55 17.5v9.7M356.60 587.9v-9.7M356.60 17.5v9.7M472.65 587.9v-9.7M472.65 17.5v9.7M588.70 587.9v-9.7M588.70 17.5v9.7M704.75 587.9v-9.7M704.75 17.5v9.7M820.80 587.9v-9.7M820.80 17.5v9.7M936.85 587.9v-9.7M936.85 17.5v9.7M124.5 587.90h9.7M994.9 587.90h-9.7M124.5 473.82h9.7M994.9 473.82h-9.7M124.5 359.74h9.7M994.9 359.74h-9.7M124.5 245.66h9.7M994.9 245.66h-9.7M124.5 131.58h9.7M994.9 131.58h-9.7M124.5 17.50h9.7M994.9 17.50h-9.7" stroke="#262626" stroke-width="2.3" fill="none"/>
<text x="113.9" y="1238.70" text-anchor="end" font-family="Liberation Sans, sans-serif" font-size="36" fill="#262626">0</text>
<text x="109.0" y="1124.66" text-anchor="end" font-family="Liberation Sans, sans-serif" font-size="36" fill="#262626">0.2</text>
<text x="109.0" y="1010.62" text-anchor="end" font-family="Liberation Sans, sans-serif" font-size="36" fill="#262626">0.4</text>
<text x="109.0" y="896.58" text-anchor="end" font-family="Liberation Sans, sans-serif" font-size="36" fill="#262626">0.6</text>
<text x="109.0" y="782.54" text-anchor="end" font-family="Liberation Sans, sans-serif" font-size="36" fill="#262626">0.8</text>
<path d="M107.30 643.30h-2.7q-0.9 3.9 -6.3 4.4q-0.65 0.1 -0.65 1.3q0 1.3 0.9 1.3h5.15V668.00H107.30Z" fill="#262626"/>
<text x="123.10" y="1267.90" text-anchor="middle" font-family="Liberation Sans, sans-serif" font-size="36" fill="#262626">0</text>
<path d="M241.90 1242.00h-2.7q-0.9 3.9 -6.3 4.4q-0.65 0.1 -0.65 1.3q0 1.3 0.9 1.3h5.15V1266.70H241.90Z" fill="#262626"/>
<text x="355.20" y="1267.90" text-anchor="middle" font-family="Liberation Sans, sans-serif" font-size="36" fill="#262626">2</text>
<text x="471.25" y="1267.90" text-anchor="middle" font-family="Liberation Sans, sans-serif" font-size="36" fill="#262626">3</text>
<text x="587.30" y="1267.90" text-anchor="middle" font-family="Liberation Sans, sans-serif" font-size="36" fill="#262626">4</text>
<text x="703.35" y="1267.90" text-anchor="middle" font-family="Liberation Sans, sans-serif" font-size="36" fill="#262626">5</text>
<text x="819.40" y="1267.90" text-anchor="middle" font-family="Liberation Sans, sans-serif" font-size="36" fill="#262626">6</text>
<text x="935.45" y="1267.90" text-anchor="middle" font-family="Liberation Sans, sans-serif" font-size="36" fill="#262626">7</text>
<path d="M123.0 669.5L125.8 674.9L128.6 680.3L131.4 685.7L134.2 691.1L137.0 696.5L139.9 702.0L142.7 707.4L145.5 712.8L148.3 718.2L151.1 723.6L153.9 729.0L156.7 734.4L159.5 739.8L162.3 745.2L165.1 750.6L167.9 756.0L170.8 761.4L173.6 766.9L176.4 772.3L179.2 777.7L182.0 783.1L184.8 788.5L187.6 793.9L190.4 799.3L193.2 804.7L196.0 810.1L198.9 815.5L201.7 820.9L204.5 826.3L207.3 831.8L210.1 837.2L212.9 842.6L215.7 848.0L218.5 853.4L221.3 858.8L224.1 864.2L226.9 869.6L229.8 875.0L232.6 880.4L235.3 885.8L238.1 891.2L240.9 896.7L243.6 902.1L246.4 907.5L249.1 912.9L251.8 918.3L254.5 923.7L257.2 929.1L259.8 934.5L262.5 939.9L265.1 945.3L267.7 950.7L270.4 956.1L272.9 961.6L275.5 967.0L278.1 972.4L280.7 977.8L283.2 983.2L285.7 988.6L288.2 994.0L290.7 999.4L293.2 1004.8L295.7 1010.2L298.2 1015.6L300.6 1021.0L303.0 1026.5L305.5 1031.9L307.8 1037.3L310.2 1042.7L312.5 1048.1L314.7 1053.5L316.9 1058.9L319.0 1064.3L321.2 1069.7L323.2 1075.1L325.2 1080.5L327.2 1085.9L329.2 1091.4L331.0 1096.8L332.9 1102.2L334.7 1107.6L336.5 1113.0L338.2 1118.4L339.8 1123.8L341.5 1129.2L343.0 1134.6L344.6 1140.0L346.1 1145.4L347.5 1150.8L348.9 1156.3L350.3 1161.7L351.6 1167.1L352.9 1172.5L354.1 1177.9L355.3 1183.3" fill="none" stroke="#00ff00" stroke-width="2.6" stroke-linejoin="round"/>
<path d="M109.1 669.5h27.8M123.0 655.6v27.8M113.2 659.7l19.7 19.7M113.2 679.3l19.7 -19.7M111.9 674.9h27.8M125.8 661.0v27.8M116.0 665.1l19.7 19.7M116.0 684.7l19.7 -19.7M114.7 680.3h27.8M128.6 666.4v27.8M118.8 670.5l19.7 19.7M118.8 690.1l19.7 -19.7M117.5 685.7h27.8M131.4 671.8v27.8M121.6 675.9l19.7 19.7M121.6 695.6l19.7 -19.7M120.3 691.1h27.8M134.2 677.2v27.8M124.4 681.3l19.7 19.7M124.4 701.0l19.7 -19.7M123.1 696.5h27.8M137.0 682.6v27.8M127.2 686.7l19.7 19.7M127.2 706.4l19.7 -19.7M126.0 702.0h27.8M139.9 688.1v27.8M130.0 692.1l19.7 19.7M130.0 711.8l19.7 -19.7M128.8 707.4h27.8M142.7 693.5v27.8M132.8 697.5l19.7 19.7M132.8 717.2l19.7 -19.7M131.6 712.8h27.8M145.5 698.9v27.8M135.6 702.9l19.7 19.7M135.6 722.6l19.7 -19.7M134.4 718.2h27.8M148.3 704.3v27.8M138.5 708.3l19.7 19.7M138.5 728.0l19.7 -19.7M137.2 723.6h27.8M151.1 709.7v27.8M141.3 713.8l19.7 19.7M141.3 733.4l19.7 -19.7M140.0 729.0h27.8M153.9 715.1v27.8M144.1 719.2l19.7 19.7M144.1 738.8l19.7 -19.7M142.8 734.4h27.8M156.7 720.5v27.8M146.9 724.6l19.7 19.7M146.9 744.2l19.7 -19.7M145.6 739.8h27.8M159.5 725.9v27.8M149.7 730.0l19.7 19.7M149.7 749.6l19.7 -19.7M148.4 745.2h27.8M162.3 731.3v27.8M152.5 735.4l19.7 19.7M152.5 755.0l19.7 -19.7M151.2 750.6h27.8M165.1 736.7v27.8M155.3 740.8l19.7 19.7M155.3 760.5l19.7 -19.7M154.0 756.0h27.8M167.9 742.1v27.8M158.1 746.2l19.7 19.7M158.1 765.9l19.7 -19.7M156.9 761.4h27.8M170.8 747.5v27.8M160.9 751.6l19.7 19.7M160.9 771.3l19.7 -19.7M159.7 766.9h27.8M173.6 753.0v27.8M163.7 757.0l19.7 19.7M163.7 776.7l19.7 -19.7M162.5 772.3h27.8M176.4 758.4v27.8M166.5 762.4l19.7 19.7M166.5 782.1l19.7 -19.7M165.3 777.7h27.8M179.2 763.8v27.8M169.4 767.8l19.7 19.7M169.4 787.5l19.7 -19.7M168.1 783.1h27.8M182.0 769.2v27.8M172.2 773.2l19.7 19.7M172.2 792.9l19.7 -19.7M170.9 788.5h27.8M184.8 774.6v27.8M175.0 778.7l19.7 19.7M175.0 798.3l19.7 -19.7M173.7 793.9h27.8M187.6 780.0v27.8M177.8 784.1l19.7 19.7M177.8 803.7l19.7 -19.7M176.5 799.3h27.8M190.4 785.4v27.8M180.6 789.5l19.7 19.7M180.6 809.1l19.7 -19.7M179.3 804.7h27.8M193.2 790.8v27.8M183.4 794.9l19.7 19.7M183.4 814.5l19.7 -19.7M182.1 810.1h27.8M196.0 796.2v27.8M186.2 800.3l19.7 19.7M186.2 819.9l19.7 -19.7M185.0 815.5h27.8M198.9 801.6v27.8M189.0 805.7l19.7 19.7M189.0 825.4l19.7 -19.7M187.8 820.9h27.8M201.7 807.0v27.8M191.8 811.1l19.7 19.7M191.8 830.8l19.7 -19.7M190.6 826.3h27.8M204.5 812.4v27.8M194.6 816.5l19.7 19.7M194.6 836.2l19.7 -19.7M193.4 831.8h27.8M207.3 817.9v27.8M197.5 821.9l19.7 19.7M197.5 841.6l19.7 -19.7M196.2 837.2h27.8M210.1 823.3v27.8M200.3 827.3l19.7 19.7M200.3 847.0l19.7 -19.7M199.0 842.6h27.8M212.9 828.7v27.8M203.1 832.7l19.7 19.7M203.1 852.4l19.7 -19.7M201.8 848.0h27.8M215.7 834.1v27.8M205.9 838.1l19.7 19.7M205.9 857.8l19.7 -19.7M204.6 853.4h27.8M218.5 839.5v27.8M208.7 843.6l19.7 19.7M208.7 863.2l19.7 -19.7M207.4 858.8h27.8M221.3 844.9v27.8M211.5 849.0l19.7 19.7M211.5 868.6l19.7 -19.7M210.2 864.2h27.8M224.1 850.3v27.8M214.3 854.4l19.7 19.7M214.3 874.0l19.7 -19.7M213.0 869.6h27.8M226.9 855.7v27.8M217.1 859.8l19.7 19.7M217.1 879.4l19.7 -19.7M215.9 875.0h27.8M229.8 861.1v27.8M219.9 865.2l19.7 19.7M219.9 884.8l19.7 -19.7M218.7 880.4h27.8M232.6 866.5v27.8M222.7 870.6l19.7 19.7M222.7 890.3l19.7 -19.7M221.4 885.8h27.8M235.3 871.9v27.8M225.5 876.0l19.7 19.7M225.5 895.7l19.7 -19.7M224.2 891.2h27.8M238.1 877.3v27.8M228.3 881.4l19.7 19.7M228.3 901.1l19.7 -19.7M227.0 896.7h27.8M240.9 882.8v27.8M231.1 886.8l19.7 19.7M231.1 906.5l19.7 -19.7M229.7 902.1h27.8M243.6 888.2v27.8M233.8 892.2l19.7 19.7M233.8 911.9l19.7 -19.7M232.5 907.5h27.8M246.4 893.6v27.8M236.5 897.6l19.7 19.7M236.5 917.3l19.7 -19.7M235.2 912.9h27.8M249.1 899.0v27.8M239.3 903.1l19.7 19.7M239.3 922.7l19.7 -19.7M237.9 918.3h27.8M251.8 904.4v27.8M242.0 908.5l19.7 19.7M242.0 928.1l19.7 -19.7M240.6 923.7h27.8M254.5 909.8v27.8M244.7 913.9l19.7 19.7M244.7 933.5l19.7 -19.7M243.3 929.1h27.8M257.2 915.2v27.8M247.3 919.3l19.7 19.7M247.3 938.9l19.7 -19.7M245.9 934.5h27.8M259.8 920.6v27.8M250.0 924.7l19.7 19.7M250.0 944.3l19.7 -19.7M248.6 939.9h27.8M262.5 926.0v27.8M252.7 930.1l19.7 19.7M252.7 949.7l19.7 -19.7M251.2 945.3h27.8M265.1 931.4v27.8M255.3 935.5l19.7 19.7M255.3 955.2l19.7 -19.7M253.8 950.7h27.8M267.7 936.8v27.8M257.9 940.9l19.7 19.7M257.9 960.6l19.7 -19.7M256.5 956.1h27.8M270.4 942.2v27.8M260.5 946.3l19.7 19.7M260.5 966.0l19.7 -19.7M259.0 961.6h27.8M272.9 947.7v27.8M263.1 951.7l19.7 19.7M263.1 971.4l19.7 -19.7M261.6 967.0h27.8M275.5 953.1v27.8M265.7 957.1l19.7 19.7M265.7 976.8l19.7 -19.7M264.2 972.4h27.8M278.1 958.5v27.8M268.3 962.5l19.7 19.7M268.3 982.2l19.7 -19.7M266.8 977.8h27.8M280.7 963.9v27.8M270.8 968.0l19.7 19.7M270.8 987.6l19.7 -19.7M269.3 983.2h27.8M283.2 969.3v27.8M273.4 973.4l19.7 19.7M273.4 993.0l19.7 -19.7M271.8 988.6h27.8M285.7 974.7v27.8M275.9 978.8l19.7 19.7M275.9 998.4l19.7 -19.7M274.3 994.0h27.8M288.2 980.1v27.8M278.4 984.2l19.7 19.7M278.4 1003.8l19.7 -19.7M276.8 999.4h27.8M290.7 985.5v27.8M280.9 989.6l19.7 19.7M280.9 1009.2l19.7 -19.7M279.3 1004.8h27.8M293.2 990.9v27.8M283.4 995.0l19.7 19.7M283.4 1014.7l19.7 -19.7M281.8 1010.2h27.8M295.7 996.3v27.8M285.9 1000.4l19.7 19.7M285.9 1020.1l19.7 -19.7M284.3 1015.6h27.8M298.2 1001.7v27.8M288.3 1005.8l19.7 19.7M288.3 1025.5l19.7 -19.7M286.7 1021.0h27.8M300.6 1007.1v27.8M290.8 1011.2l19.7 19.7M290.8 1030.9l19.7 -19.7M289.1 1026.5h27.8M303.0 1012.6v27.8M293.2 1016.6l19.7 19.7M293.2 1036.3l19.7 -19.7M291.6 1031.9h27.8M305.5 1018.0v27.8M295.6 1022.0l19.7 19.7M295.6 1041.7l19.7 -19.7M293.9 1037.3h27.8M307.8 1023.4v27.8M298.0 1027.4l19.7 19.7M298.0 1047.1l19.7 -19.7M296.3 1042.7h27.8M310.2 1028.8v27.8M300.3 1032.9l19.7 19.7M300.3 1052.5l19.7 -19.7M298.6 1048.1h27.8M312.5 1034.2v27.8M302.6 1038.3l19.7 19.7M302.6 1057.9l19.7 -19.7M300.8 1053.5h27.8M314.7 1039.6v27.8M304.9 1043.7l19.7 19.7M304.9 1063.3l19.7 -19.7M303.0 1058.9h27.8M316.9 1045.0v27.8M307.1 1049.1l19.7 19.7M307.1 1068.7l19.7 -19.7M305.1 1064.3h27.8M319.0 1050.4v27.8M309.2 1054.5l19.7 19.7M309.2 1074.1l19.7 -19.7M307.3 1069.7h27.8M321.2 1055.8v27.8M311.3 1059.9l19.7 19.7M311.3 1079.6l19.7 -19.7M309.3 1075.1h27.8M323.2 1061.2v27.8M313.4 1065.3l19.7 19.7M313.4 1085.0l19.7 -19.7M311.3 1080.5h27.8M325.2 1066.6v27.8M315.4 1070.7l19.7 19.7M315.4 1090.4l19.7 -19.7M313.3 1085.9h27.8M327.2 1072.0v27.8M317.4 1076.1l19.7 19.7M317.4 1095.8l19.7 -19.7M315.3 1091.4h27.8M329.2 1077.5v27.8M319.3 1081.5l19.7 19.7M319.3 1101.2l19.7 -19.7M317.1 1096.8h27.8M331.0 1082.9v27.8M321.2 1086.9l19.7 19.7M321.2 1106.6l19.7 -19.7M319.0 1102.2h27.8M332.9 1088.3v27.8M323.1 1092.3l19.7 19.7M323.1 1112.0l19.7 -19.7M320.8 1107.6h27.8M334.7 1093.7v27.8M324.9 1097.8l19.7 19.7M324.9 1117.4l19.7 -19.7M322.6 1113.0h27.8M336.5 1099.1v27.8M326.6 1103.2l19.7 19.7M326.6 1122.8l19.7 -19.7M324.3 1118.4h27.8M338.2 1104.5v27.8M328.3 1108.6l19.7 19.7M328.3 1128.2l19.7 -19.7M325.9 1123.8h27.8M339.8 1109.9v27.8M330.0 1114.0l19.7 19.7M330.0 1133.6l19.7 -19.7M327.6 1129.2h27.8M341.5 1115.3v27.8M331.6 1119.4l19.7 19.7M331.6 1139.0l19.7 -19.7M329.1 1134.6h27.8M343.0 1120.7v27.8M333.2 1124.8l19.7 19.7M333.2 1144.5l19.7 -19.7M330.7 1140.0h27.8M344.6 1126.1v27.8M334.8 1130.2l19.7 19.7M334.8 1149.9l19.7 -19.7M332.2 1145.4h27.8M346.1 1131.5v27.8M336.2 1135.6l19.7 19.7M336.2 1155.3l19.7 -19.7M333.6 1150.8h27.8M347.5 1136.9v27.8M337.7 1141.0l19.7 19.7M337.7 1160.7l19.7 -19.7M335.0 1156.3h27.8M348.9 1142.4v27.8M339.1 1146.4l19.7 19.7M339.1 1166.1l19.7 -19.7M336.4 1161.7h27.8M350.3 1147.8v27.8M340.5 1151.8l19.7 19.7M340.5 1171.5l19.7 -19.7M337.7 1167.1h27.8M351.6 1153.2v27.8M341.8 1157.2l19.7 19.7M341.8 1176.9l19.7 -19.7M339.0 1172.5h27.8M352.9 1158.6v27.8M343.1 1162.7l19.7 19.7M343.1 1182.3l19.7 -19.7M340.2 1177.9h27.8M354.1 1164.0v27.8M344.3 1168.1l19.7 19.7M344.3 1187.7l19.7 -19.7M341.4 1183.3h27.8M355.3 1169.4v27.8M345.5 1173.5l19.7 19.7M345.5 1193.1l19.7 -19.7" fill="none" stroke="#00ff00" stroke-width="2.7"/>
<path d="M124.5 665.7L127.3 671.1L130.1 676.5L132.9 681.9L135.8 687.3L138.6 692.7L141.4 698.0L144.3 703.4L147.1 708.8L150.0 714.2L152.8 719.6L155.7 725.0L158.5 730.4L161.4 735.8L164.3 741.2L167.2 746.6L170.0 752.0L172.9 757.3L175.8 762.7L178.7 768.1L181.6 773.5L184.5 778.9L187.4 784.3L190.3 789.7L193.2 795.1L196.2 800.5L199.1 805.9L202.0 811.2L204.9 816.6L207.9 822.0L210.8 827.4L213.8 832.8L216.7 838.2L219.7 843.6L222.6 849.0L225.6 854.4L228.6 859.8L231.6 865.2L234.5 870.5L237.5 875.9L240.5 881.3L243.5 886.7L246.5 892.1L249.6 897.5L252.6 902.9L255.7 908.3L258.8 913.7L261.9 919.1L265.0 924.5L268.1 929.8L271.3 935.2L274.4 940.6L277.6 946.0L280.8 951.4L284.0 956.8L287.3 962.2L290.5 967.6L293.8 973.0L297.1 978.4L300.4 983.7L303.7 989.1L307.1 994.5L310.4 999.9L313.8 1005.3L317.2 1010.7L320.6 1016.1L324.2 1021.5L327.7 1026.9L331.4 1032.3L335.2 1037.7L339.0 1043.0L342.9 1048.4L346.8 1053.8L350.9 1059.2L355.0 1064.6L359.2 1070.0L363.5 1075.4L367.8 1080.8L372.3 1086.2L376.8 1091.6L381.4 1097.0L386.0 1102.3L390.8 1107.7L395.6 1113.1L400.5 1118.5L405.4 1123.9L410.5 1129.3L415.6 1134.7L420.8 1140.1L426.3 1145.5L432.4 1150.9L439.1 1156.2L446.3 1161.6L454.1 1167.0L462.5 1172.4L471.5 1177.8L481.0 1183.2" fill="none" stroke="#ff00ff" stroke-width="2.6" stroke-linejoin="round"/>
<g fill="none" stroke="#ff00ff" stroke-width="2.5">
<circle cx="124.5" cy="665.7" r="13.55"/><circle cx="127.3" cy="671.1" r="13.55"/><circle cx="130.1" cy="676.5" r="13.55"/><circle cx="132.9" cy="681.9" r="13.55"/><circle cx="135.8" cy="687.3" r="13.55"/><circle cx="138.6" cy="692.7" r="13.55"/><circle cx="141.4" cy="698.0" r="13.55"/><circle cx="144.3" cy="703.4" r="13.55"/><circle cx="147.1" cy="708.8" r="13.55"/><circle cx="150.0" cy="714.2" r="13.55"/><circle cx="152.8" cy="719.6" r="13.55"/><circle cx="155.7" cy="725.0" r="13.55"/><circle cx="158.5" cy="730.4" r="13.55"/><circle cx="161.4" cy="735.8" r="13.55"/><circle cx="164.3" cy="741.2" r="13.55"/><circle cx="167.2" cy="746.6" r="13.55"/><circle cx="170.0" cy="752.0" r="13.55"/><circle cx="172.9" cy="757.3" r="13.55"/><circle cx="175.8" cy="762.7" r="13.55"/><circle cx="178.7" cy="768.1" r="13.55"/><circle cx="181.6" cy="773.5" r="13.55"/><circle cx="184.5" cy="778.9" r="13.55"/><circle cx="187.4" cy="784.3" r="13.55"/><circle cx="190.3" cy="789.7" r="13.55"/><circle cx="193.2" cy="795.1" r="13.55"/><circle cx="196.2" cy="800.5" r="13.55"/><circle cx="199.1" cy="805.9" r="13.55"/><circle cx="202.0" cy="811.2" r="13.55"/><circle cx="204.9" cy="816.6" r="13.55"/><circle cx="207.9" cy="822.0" r="13.55"/><circle cx="210.8" cy="827.4" r="13.55"/><circle cx="213.8" cy="832.8" r="13.55"/><circle cx="216.7" cy="838.2" r="13.55"/><circle cx="219.7" cy="843.6" r="13.55"/><circle cx="222.6" cy="849.0" r="13.55"/><circle cx="225.6" cy="854.4" r="13.55"/><circle cx="228.6" cy="859.8" r="13.55"/><circle cx="231.6" cy="865.2" r="13.55"/><circle cx="234.5" cy="870.5" r="13.55"/><circle cx="237.5" cy="875.9" r="13.55"/><circle cx="240.5" cy="881.3" r="13.55"/><circle cx="243.5" cy="886.7" r="13.55"/><circle cx="246.5" cy="892.1" r="13.55"/><circle cx="249.6" cy="897.5" r="13.55"/><circle cx="252.6" cy="902.9" r="13.55"/><circle cx="255.7" cy="908.3" r="13.55"/><circle cx="258.8" cy="913.7" r="13.55"/><circle cx="261.9" cy="919.1" r="13.55"/><circle cx="265.0" cy="924.5" r="13.55"/><circle cx="268.1" cy="929.8" r="13.55"/><circle cx="271.3" cy="935.2" r="13.55"/><circle cx="274.4" cy="940.6" r="13.55"/><circle cx="277.6" cy="946.0" r="13.55"/><circle cx="280.8" cy="951.4" r="13.55"/><circle cx="284.0" cy="956.8" r="13.55"/><circle cx="287.3" cy="962.2" r="13.55"/><circle cx="290.5" cy="967.6" r="13.55"/><circle cx="293.8" cy="973.0" r="13.55"/><circle cx="297.1" cy="978.4" r="13.55"/><circle cx="300.4" cy="983.7" r="13.55"/><circle cx="303.7" cy="989.1" r="13.55"/><circle cx="307.1" cy="994.5" r="13.55"/><circle cx="310.4" cy="999.9" r="13.55"/><circle cx="313.8" cy="1005.3" r="13.55"/><circle cx="317.2" cy="1010.7" r="13.55"/><circle cx="320.6" cy="1016.1" r="13.55"/><circle cx="324.2" cy="1021.5" r="13.55"/><circle cx="327.7" cy="1026.9" r="13.55"/><circle cx="331.4" cy="1032.3" r="13.55"/><circle cx="335.2" cy="1037.7" r="13.55"/><circle cx="339.0" cy="1043.0" r="13.55"/><circle cx="342.9" cy="1048.4" r="13.55"/><circle cx="346.8" cy="1053.8" r="13.55"/><circle cx="350.9" cy="1059.2" r="13.55"/><circle cx="355.0" cy="1064.6" r="13.55"/><circle cx="359.2" cy="1070.0" r="13.55"/><circle cx="363.5" cy="1075.4" r="13.55"/><circle cx="367.8" cy="1080.8" r="13.55"/><circle cx="372.3" cy="1086.2" r="13.55"/><circle cx="376.8" cy="1091.6" r="13.55"/><circle cx="381.4" cy="1097.0" r="13.55"/><circle cx="386.0" cy="1102.3" r="13.55"/><circle cx="390.8" cy="1107.7" r="13.55"/><circle cx="395.6" cy="1113.1" r="13.55"/><circle cx="400.5" cy="1118.5" r="13.55"/><circle cx="405.4" cy="1123.9" r="13.55"/><circle cx="410.5" cy="1129.3" r="13.55"/><circle cx="415.6" cy="1134.7" r="13.55"/><circle cx="420.8" cy="1140.1" r="13.55"/><circle cx="426.3" cy="1145.5" r="13.55"/><circle cx="432.4" cy="1150.9" r="13.55"/><circle cx="439.1" cy="1156.2" r="13.55"/><circle cx="446.3" cy="1161.6" r="13.55"/><circle cx="454.1" cy="1167.0" r="13.55"/><circle cx="462.5" cy="1172.4" r="13.55"/><circle cx="471.5" cy="1177.8" r="13.55"/><circle cx="481.0" cy="1183.2" r="13.55"/>
</g>
<rect x="124.5" y="655.6" width="870.4" height="570.1999999999999" fill="none" stroke="#262626" stroke-width="2.3"/>
<path d="M124.50 1225.8v-9.7M124.50 655.6v9.7M240.55 1225.8v-9.7M240.55 655.6v9.7M356.60 1225.8v-9.7M356.60 655.6v9.7M472.65 1225.8v-9.7M472.65 655.6v9.7M588.70 1225.8v-9.7M588.70 655.6v9.7M704.75 1225.8v-9.7M704.75 655.6v9.7M820.80 1225.8v-9.7M820.80 655.6v9.7M936.85 1225.8v-9.7M936.85 655.6v9.7M124.5 1225.80h9.7M994.9 1225.80h-9.7M124.5 1111.76h9.7M994.9 1111.76h-9.7M124.5 997.72h9.7M994.9 997.72h-9.7M124.5 883.68h9.7M994.9 883.68h-9.7M124.5 769.64h9.7M994.9 769.64h-9.7M124.5 655.60h9.7M994.9 655.60h-9.7" stroke="#262626" stroke-width="2.3" fill="none"/>
<rect x="271.1" y="31.1" width="270.8" height="116" fill="#fff" stroke="#262626" stroke-width="2"/>
<path d="M285.0 64.3L420.5 64.3" fill="none" stroke="#00ff00" stroke-width="2.6" stroke-linejoin="round"/>
<path d="M339.1 64.3h27.8M353.0 50.4v27.8M343.2 54.5l19.7 19.7M343.2 74.1l19.7 -19.7" fill="none" stroke="#00ff00" stroke-width="2.7"/>
<path d="M285.0 116.4L420.5 116.4" fill="none" stroke="#ff00ff" stroke-width="2.6" stroke-linejoin="round"/>
<g fill="none" stroke="#ff00ff" stroke-width="2.5">
<circle cx="353.1" cy="116.1" r="13.55"/>
</g>
<g font-family="Liberation Sans, sans-serif" fill="#000">
<text x="431.2" y="71.6" font-size="32.5">d</text>
<text x="456.2" y="85.7" font-size="26.5">x</text>
<text x="485.8" y="85.7" font-size="26.5">-</text>
<text x="495.2" y="85.7" font-size="26.5">y</text>
<text x="431.8" y="123.3" font-size="32.5">s</text>
</g>
<path d="M450.3 128h18.5M450.3 136.3h18.5" stroke="#000" stroke-width="2" fill="none"/><path d="M459.5 118.9v17.4" stroke="#000" stroke-width="1.7" fill="none"/>
<clipPath id="clip0"><rect x="656.75" y="51.55" width="307.54999999999995" height="307.34999999999997"/></clipPath>
<rect x="656.75" y="51.55" width="307.54999999999995" height="307.34999999999997" fill="#fff"/>
<g clip-path="url(#clip0)" fill="none">
<path d="M718.75 51.55L718.71 56.69L718.60 60.30L718.42 63.49L718.16 66.43L717.83 69.19L717.43 71.80L716.95 74.29L716.40 76.67L715.78 78.96L715.09 81.16L714.32 83.28L713.48 85.32L712.57 87.29L711.59 89.18L710.54 91.00L709.42 92.75L708.23 94.43L706.97 96.03L705.64 97.57L704.24 99.04L702.77 100.44L701.23 101.77L699.63 103.03L697.95 104.22L696.20 105.34L694.38 106.39L692.49 107.37L690.52 108.28L688.48 109.12L686.36 109.89L684.16 110.58L681.87 111.20L679.49 111.75L677.00 112.23L674.39 112.63L671.63 112.96L668.69 113.22L665.50 113.40L661.89 113.51L656.75 113.55L651.61 113.51L648.00 113.40L644.81 113.22L641.87 112.96L639.11 112.63L636.50 112.23L634.01 111.75L631.63 111.20L629.34 110.58L627.14 109.89L625.02 109.12L622.98 108.28L621.01 107.37L619.12 106.39L617.30 105.34L615.55 104.22L613.87 103.03L612.27 101.77L610.73 100.44L609.26 99.04L607.86 97.57L606.53 96.03L605.27 94.43L604.08 92.75L602.96 91.00L601.91 89.18L600.93 87.29L600.02 85.32L599.18 83.28L598.41 81.16L597.72 78.96L597.10 76.67L596.55 74.29L596.07 71.80L595.67 69.19L595.34 66.43L595.08 63.49L594.90 60.30L594.79 56.69L594.75 51.55L594.79 46.41L594.90 42.80L595.08 39.61L595.34 36.67L595.67 33.91L596.07 31.30L596.55 28.81L597.10 26.43L597.72 24.14L598.41 21.94L599.18 19.82L600.02 17.78L600.93 15.81L601.91 13.92L602.96 12.10L604.08 10.35L605.27 8.67L606.53 7.07L607.86 5.53L609.26 4.06L610.73 2.66L612.27 1.33L613.87 0.07L615.55 -1.12L617.30 -2.24L619.12 -3.29L621.01 -4.27L622.98 -5.18L625.02 -6.02L627.14 -6.79L629.34 -7.48L631.63 -8.10L634.01 -8.65L636.50 -9.13L639.11 -9.53L641.87 -9.86L644.81 -10.12L648.00 -10.30L651.61 -10.41L656.75 -10.45L661.89 -10.41L665.50 -10.30L668.69 -10.12L671.63 -9.86L674.39 -9.53L677.00 -9.13L679.49 -8.65L681.87 -8.10L684.16 -7.48L686.36 -6.79L688.48 -6.02L690.52 -5.18L692.49 -4.27L694.38 -3.29L696.20 -2.24L697.95 -1.12L699.63 0.07L701.23 1.33L702.77 2.66L704.24 4.06L705.64 5.53L706.97 7.07L708.23 8.67L709.42 10.35L710.54 12.10L711.59 13.92L712.57 15.81L713.48 17.78L714.32 19.82L715.09 21.94L715.78 24.14L716.40 26.43L716.95 28.81L717.43 31.30L717.83 33.91L718.16 36.67L718.42 39.61L718.60 42.80L718.71 46.41L718.75 51.55Z" stroke="#0000ff" stroke-width="9.2"/>
<path d="M1026.30 51.55L1026.26 56.69L1026.15 60.30L1025.97 63.49L1025.71 66.43L1025.38 69.19L1024.98 71.80L1024.50 74.29L1023.95 76.67L1023.33 78.96L1022.64 81.16L1021.87 83.28L1021.03 85.32L1020.12 87.29L1019.14 89.18L1018.09 91.00L1016.97 92.75L1015.78 94.43L1014.52 96.03L1013.19 97.57L1011.79 99.04L1010.32 100.44L1008.78 101.77L1007.18 103.03L1005.50 104.22L1003.75 105.34L1001.93 106.39L1000.04 107.37L998.07 108.28L996.03 109.12L993.91 109.89L991.71 110.58L989.42 111.20L987.04 111.75L984.55 112.23L981.94 112.63L979.18 112.96L976.24 113.22L973.05 113.40L969.44 113.51L964.30 113.55L959.16 113.51L955.55 113.40L952.36 113.22L949.42 112.96L946.66 112.63L944.05 112.23L941.56 111.75L939.18 111.20L936.89 110.58L934.69 109.89L932.57 109.12L930.53 108.28L928.56 107.37L926.67 106.39L924.85 105.34L923.10 104.22L921.42 103.03L919.82 101.77L918.28 100.44L916.81 99.04L915.41 97.57L914.08 96.03L912.82 94.43L911.63 92.75L910.51 91.00L909.46 89.18L908.48 87.29L907.57 85.32L906.73 83.28L905.96 81.16L905.27 78.96L904.65 76.67L904.10 74.29L903.62 71.80L903.22 69.19L902.89 66.43L902.63 63.49L902.45 60.30L902.34 56.69L902.30 51.55L902.34 46.41L902.45 42.80L902.63 39.61L902.89 36.67L903.22 33.91L903.62 31.30L904.10 28.81L904.65 26.43L905.27 24.14L905.96 21.94L906.73 19.82L907.57 17.78L908.48 15.81L909.46 13.92L910.51 12.10L911.63 10.35L912.82 8.67L914.08 7.07L915.41 5.53L916.81 4.06L918.28 2.66L919.82 1.33L921.42 0.07L923.10 -1.12L924.85 -2.24L926.67 -3.29L928.56 -4.27L930.53 -5.18L932.57 -6.02L934.69 -6.79L936.89 -7.48L939.18 -8.10L941.56 -8.65L944.05 -9.13L946.66 -9.53L949.42 -9.86L952.36 -10.12L955.55 -10.30L959.16 -10.41L964.30 -10.45L969.44 -10.41L973.05 -10.30L976.24 -10.12L979.18 -9.86L981.94 -9.53L984.55 -9.13L987.04 -8.65L989.42 -8.10L991.71 -7.48L993.91 -6.79L996.03 -6.02L998.07 -5.18L1000.04 -4.27L1001.93 -3.29L1003.75 -2.24L1005.50 -1.12L1007.18 0.07L1008.78 1.33L1010.32 2.66L1011.79 4.06L1013.19 5.53L1014.52 7.07L1015.78 8.67L1016.97 10.35L1018.09 12.10L1019.14 13.92L1020.12 15.81L1021.03 17.78L1021.87 19.82L1022.64 21.94L1023.33 24.14L1023.95 26.43L1024.50 28.81L1024.98 31.30L1025.38 33.91L1025.71 36.67L1025.97 39.61L1026.15 42.80L1026.26 46.41L1026.30 51.55Z" stroke="#0000ff" stroke-width="9.2"/>
<path d="M718.75 358.90L718.71 364.04L718.60 367.65L718.42 370.84L718.16 373.78L717.83 376.54L717.43 379.15L716.95 381.64L716.40 384.02L715.78 386.31L715.09 388.51L714.32 390.63L713.48 392.67L712.57 394.64L711.59 396.53L710.54 398.35L709.42 400.10L708.23 401.78L706.97 403.38L705.64 404.92L704.24 406.39L702.77 407.79L701.23 409.12L699.63 410.38L697.95 411.57L696.20 412.69L694.38 413.74L692.49 414.72L690.52 415.63L688.48 416.47L686.36 417.24L684.16 417.93L681.87 418.55L679.49 419.10L677.00 419.58L674.39 419.98L671.63 420.31L668.69 420.57L665.50 420.75L661.89 420.86L656.75 420.90L651.61 420.86L648.00 420.75L644.81 420.57L641.87 420.31L639.11 419.98L636.50 419.58L634.01 419.10L631.63 418.55L629.34 417.93L627.14 417.24L625.02 416.47L622.98 415.63L621.01 414.72L619.12 413.74L617.30 412.69L615.55 411.57L613.87 410.38L612.27 409.12L610.73 407.79L609.26 406.39L607.86 404.92L606.53 403.38L605.27 401.78L604.08 400.10L602.96 398.35L601.91 396.53L600.93 394.64L600.02 392.67L599.18 390.63L598.41 388.51L597.72 386.31L597.10 384.02L596.55 381.64L596.07 379.15L595.67 376.54L595.34 373.78L595.08 370.84L594.90 367.65L594.79 364.04L594.75 358.90L594.79 353.76L594.90 350.15L595.08 346.96L595.34 344.02L595.67 341.26L596.07 338.65L596.55 336.16L597.10 333.78L597.72 331.49L598.41 329.29L599.18 327.17L600.02 325.13L600.93 323.16L601.91 321.27L602.96 319.45L604.08 317.70L605.27 316.02L606.53 314.42L607.86 312.88L609.26 311.41L610.73 310.01L612.27 308.68L613.87 307.42L615.55 306.23L617.30 305.11L619.12 304.06L621.01 303.08L622.98 302.17L625.02 301.33L627.14 300.56L629.34 299.87L631.63 299.25L634.01 298.70L636.50 298.22L639.11 297.82L641.87 297.49L644.81 297.23L648.00 297.05L651.61 296.94L656.75 296.90L661.89 296.94L665.50 297.05L668.69 297.23L671.63 297.49L674.39 297.82L677.00 298.22L679.49 298.70L681.87 299.25L684.16 299.87L686.36 300.56L688.48 301.33L690.52 302.17L692.49 303.08L694.38 304.06L696.20 305.11L697.95 306.23L699.63 307.42L701.23 308.68L702.77 310.01L704.24 311.41L705.64 312.88L706.97 314.42L708.23 316.02L709.42 317.70L710.54 319.45L711.59 321.27L712.57 323.16L713.48 325.13L714.32 327.17L715.09 329.29L715.78 331.49L716.40 333.78L716.95 336.16L717.43 338.65L717.83 341.26L718.16 344.02L718.42 346.96L718.60 350.15L718.71 353.76L718.75 358.90Z" stroke="#0000ff" stroke-width="9.2"/>
<path d="M1026.30 358.90L1026.26 364.04L1026.15 367.65L1025.97 370.84L1025.71 373.78L1025.38 376.54L1024.98 379.15L1024.50 381.64L1023.95 384.02L1023.33 386.31L1022.64 388.51L1021.87 390.63L1021.03 392.67L1020.12 394.64L1019.14 396.53L1018.09 398.35L1016.97 400.10L1015.78 401.78L1014.52 403.38L1013.19 404.92L1011.79 406.39L1010.32 407.79L1008.78 409.12L1007.18 410.38L1005.50 411.57L1003.75 412.69L1001.93 413.74L1000.04 414.72L998.07 415.63L996.03 416.47L993.91 417.24L991.71 417.93L989.42 418.55L987.04 419.10L984.55 419.58L981.94 419.98L979.18 420.31L976.24 420.57L973.05 420.75L969.44 420.86L964.30 420.90L959.16 420.86L955.55 420.75L952.36 420.57L949.42 420.31L946.66 419.98L944.05 419.58L941.56 419.10L939.18 418.55L936.89 417.93L934.69 417.24L932.57 416.47L930.53 415.63L928.56 414.72L926.67 413.74L924.85 412.69L923.10 411.57L921.42 410.38L919.82 409.12L918.28 407.79L916.81 406.39L915.41 404.92L914.08 403.38L912.82 401.78L911.63 400.10L910.51 398.35L909.46 396.53L908.48 394.64L907.57 392.67L906.73 390.63L905.96 388.51L905.27 386.31L904.65 384.02L904.10 381.64L903.62 379.15L903.22 376.54L902.89 373.78L902.63 370.84L902.45 367.65L902.34 364.04L902.30 358.90L902.34 353.76L902.45 350.15L902.63 346.96L902.89 344.02L903.22 341.26L903.62 338.65L904.10 336.16L904.65 333.78L905.27 331.49L905.96 329.29L906.73 327.17L907.57 325.13L908.48 323.16L909.46 321.27L910.51 319.45L911.63 317.70L912.82 316.02L914.08 314.42L915.41 312.88L916.81 311.41L918.28 310.01L919.82 308.68L921.42 307.42L923.10 306.23L924.85 305.11L926.67 304.06L928.56 303.08L930.53 302.17L932.57 301.33L934.69 300.56L936.89 299.87L939.18 299.25L941.56 298.70L944.05 298.22L946.66 297.82L949.42 297.49L952.36 297.23L955.55 297.05L959.16 296.94L964.30 296.90L969.44 296.94L973.05 297.05L976.24 297.23L979.18 297.49L981.94 297.82L984.55 298.22L987.04 298.70L989.42 299.25L991.71 299.87L993.91 300.56L996.03 301.33L998.07 302.17L1000.04 303.08L1001.93 304.06L1003.75 305.11L1005.50 306.23L1007.18 307.42L1008.78 308.68L1010.32 310.01L1011.79 311.41L1013.19 312.88L1014.52 314.42L1015.78 316.02L1016.97 317.70L1018.09 319.45L1019.14 321.27L1020.12 323.16L1021.03 325.13L1021.87 327.17L1022.64 329.29L1023.33 331.49L1023.95 333.78L1024.50 336.16L1024.98 338.65L1025.38 341.26L1025.71 344.02L1025.97 346.96L1026.15 350.15L1026.26 353.76L1026.30 358.90Z" stroke="#0000ff" stroke-width="9.2"/>
<path d="M881.05 204.90L881.02 209.86L880.94 213.35L880.81 216.44L880.62 219.28L880.38 221.95L880.09 224.49L879.74 226.92L879.34 229.26L878.89 231.51L878.38 233.69L877.83 235.80L877.22 237.84L876.55 239.82L875.84 241.74L875.07 243.60L874.25 245.41L873.38 247.17L872.46 248.87L871.48 250.51L870.46 252.11L869.38 253.66L868.26 255.15L867.08 256.59L865.85 257.98L864.58 259.32L863.25 260.61L861.87 261.85L860.44 263.04L858.96 264.18L857.43 265.26L855.85 266.30L854.21 267.28L852.53 268.21L850.79 269.09L849.00 269.91L847.15 270.69L845.25 271.41L843.29 272.08L841.26 272.70L839.18 273.26L837.02 273.77L834.79 274.23L832.47 274.63L830.06 274.98L827.55 275.28L824.90 275.52L822.08 275.71L819.02 275.84L815.56 275.92L810.65 275.95L805.74 275.92L802.28 275.84L799.22 275.71L796.40 275.52L793.75 275.28L791.24 274.98L788.83 274.63L786.51 274.23L784.28 273.77L782.12 273.26L780.04 272.70L778.01 272.08L776.05 271.41L774.15 270.69L772.30 269.91L770.51 269.09L768.77 268.21L767.09 267.28L765.45 266.30L763.87 265.26L762.34 264.18L760.86 263.04L759.43 261.85L758.05 260.61L756.72 259.32L755.45 257.98L754.22 256.59L753.04 255.15L751.92 253.66L750.84 252.11L749.82 250.51L748.84 248.87L747.92 247.17L747.05 245.41L746.23 243.60L745.46 241.74L744.75 239.82L744.08 237.84L743.47 235.80L742.92 233.69L742.41 231.51L741.96 229.26L741.56 226.92L741.21 224.49L740.92 221.95L740.68 219.28L740.49 216.44L740.36 213.35L740.28 209.86L740.25 204.90L740.28 199.94L740.36 196.45L740.49 193.36L740.68 190.52L740.92 187.85L741.21 185.31L741.56 182.88L741.96 180.54L742.41 178.29L742.92 176.11L743.47 174.00L744.08 171.96L744.75 169.98L745.46 168.06L746.23 166.20L747.05 164.39L747.92 162.63L748.84 160.93L749.82 159.29L750.84 157.69L751.92 156.14L753.04 154.65L754.22 153.21L755.45 151.82L756.72 150.48L758.05 149.19L759.43 147.95L760.86 146.76L762.34 145.62L763.87 144.54L765.45 143.50L767.09 142.52L768.77 141.59L770.51 140.71L772.30 139.89L774.15 139.11L776.05 138.39L778.01 137.72L780.04 137.10L782.12 136.54L784.28 136.03L786.51 135.57L788.83 135.17L791.24 134.82L793.75 134.52L796.40 134.28L799.22 134.09L802.28 133.96L805.74 133.88L810.65 133.85L815.56 133.88L819.02 133.96L822.08 134.09L824.90 134.28L827.55 134.52L830.06 134.82L832.47 135.17L834.79 135.57L837.02 136.03L839.18 136.54L841.26 137.10L843.29 137.72L845.25 138.39L847.15 139.11L849.00 139.89L850.79 140.71L852.53 141.59L854.21 142.52L855.85 143.50L857.43 144.54L858.96 145.62L860.44 146.76L861.87 147.95L863.25 149.19L864.58 150.48L865.85 151.82L867.08 153.21L868.26 154.65L869.38 156.14L870.46 157.69L871.48 159.29L872.46 160.93L873.38 162.63L874.25 164.39L875.07 166.20L875.84 168.06L876.55 169.98L877.22 171.96L877.83 174.00L878.38 176.11L878.89 178.29L879.34 180.54L879.74 182.88L880.09 185.31L880.38 187.85L880.62 190.52L880.81 193.36L880.94 196.45L881.02 199.94L881.05 204.90Z" stroke="#0000ff" stroke-width="9.2"/>
<path d="M656.75 170.55L668.17 170.54L673.36 170.53L677.43 170.50L680.90 170.46L684.00 170.41L686.81 170.35L689.42 170.28L691.86 170.20L694.16 170.10L696.34 170.00L698.42 169.88L700.41 169.76L702.32 169.62L704.16 169.47L705.94 169.31L707.66 169.14L709.33 168.95L710.95 168.76L712.53 168.56L714.06 168.34L715.56 168.11L717.01 167.88L718.44 167.63L719.83 167.37L721.18 167.09L722.51 166.81L723.81 166.52L725.09 166.21L726.33 165.89L727.55 165.56L728.75 165.22L729.93 164.87L731.08 164.51L732.21 164.14L733.32 163.75L734.40 163.35L735.47 162.94L736.52 162.52L737.55 162.09L738.56 161.65L739.56 161.19L740.53 160.72L741.49 160.25L742.43 159.75L743.36 159.25L744.27 158.74L745.16 158.21L746.04 157.67L746.90 157.12L747.75 156.55L748.58 155.98L749.40 155.39L750.20 154.79L750.99 154.17L751.76 153.55L752.52 152.91L753.27 152.26L754.00 151.59L754.72 150.91L755.42 150.22L756.11 149.52L756.79 148.80L757.46 148.07L758.11 147.32L758.75 146.56L759.37 145.79L759.99 145.00L760.59 144.20L761.18 143.38L761.75 142.55L762.32 141.70L762.87 140.84L763.41 139.96L763.94 139.07L764.45 138.16L764.95 137.23L765.45 136.29L765.92 135.33L766.39 134.36L766.85 133.36L767.29 132.35L767.72 131.32L768.14 130.27L768.55 129.20L768.95 128.12L769.34 127.01L769.71 125.88L770.07 124.73L770.42 123.55L770.76 122.35L771.09 121.13L771.41 119.89L771.72 118.61L772.01 117.31L772.29 115.98L772.57 114.63L772.83 113.24L773.08 111.81L773.31 110.36L773.54 108.86L773.76 107.33L773.96 105.75L774.15 104.13L774.34 102.46L774.51 100.74L774.67 98.96L774.82 97.12L774.96 95.21L775.08 93.22L775.20 91.14L775.30 88.96L775.40 86.66L775.48 84.22L775.55 81.61L775.61 78.80L775.66 75.70L775.70 72.23L775.73 68.16L775.74 62.97L775.75 51.55" stroke="#ff0000" stroke-width="9.2" stroke-dasharray="7.2 6.53" stroke-dashoffset="0"/>
<path d="M845.30 51.55L845.31 62.97L845.32 68.16L845.35 72.23L845.39 75.70L845.44 78.80L845.50 81.61L845.57 84.22L845.65 86.66L845.75 88.96L845.85 91.14L845.97 93.22L846.09 95.21L846.23 97.12L846.38 98.96L846.54 100.74L846.71 102.46L846.90 104.13L847.09 105.75L847.29 107.33L847.51 108.86L847.74 110.36L847.97 111.81L848.22 113.24L848.48 114.63L848.76 115.98L849.04 117.31L849.33 118.61L849.64 119.89L849.96 121.13L850.29 122.35L850.63 123.55L850.98 124.73L851.34 125.88L851.71 127.01L852.10 128.12L852.50 129.20L852.91 130.27L853.33 131.32L853.76 132.35L854.20 133.36L854.66 134.36L855.13 135.33L855.60 136.29L856.10 137.23L856.60 138.16L857.11 139.07L857.64 139.96L858.18 140.84L858.73 141.70L859.30 142.55L859.87 143.38L860.46 144.20L861.06 145.00L861.68 145.79L862.30 146.56L862.94 147.32L863.59 148.07L864.26 148.80L864.94 149.52L865.63 150.22L866.33 150.91L867.05 151.59L867.78 152.26L868.53 152.91L869.29 153.55L870.06 154.17L870.85 154.79L871.65 155.39L872.47 155.98L873.30 156.55L874.15 157.12L875.01 157.67L875.89 158.21L876.78 158.74L877.69 159.25L878.62 159.75L879.56 160.25L880.52 160.72L881.49 161.19L882.49 161.65L883.50 162.09L884.53 162.52L885.58 162.94L886.65 163.35L887.73 163.75L888.84 164.14L889.97 164.51L891.12 164.87L892.30 165.22L893.50 165.56L894.72 165.89L895.96 166.21L897.24 166.52L898.54 166.81L899.87 167.09L901.22 167.37L902.61 167.63L904.04 167.88L905.49 168.11L906.99 168.34L908.52 168.56L910.10 168.76L911.72 168.95L913.39 169.14L915.11 169.31L916.89 169.47L918.73 169.62L920.64 169.76L922.63 169.88L924.71 170.00L926.89 170.10L929.19 170.20L931.63 170.28L934.24 170.35L937.05 170.41L940.15 170.46L943.62 170.50L947.69 170.53L952.88 170.54L964.30 170.55" stroke="#ff0000" stroke-width="9.2" stroke-dasharray="7.2 6.53" stroke-dashoffset="0"/>
<path d="M775.75 358.90L775.74 347.48L775.73 342.29L775.70 338.22L775.66 334.75L775.61 331.65L775.55 328.84L775.48 326.23L775.40 323.79L775.30 321.49L775.20 319.31L775.08 317.23L774.96 315.24L774.82 313.33L774.67 311.49L774.51 309.71L774.34 307.99L774.15 306.32L773.96 304.70L773.76 303.12L773.54 301.59L773.31 300.09L773.08 298.64L772.83 297.21L772.57 295.82L772.29 294.47L772.01 293.14L771.72 291.84L771.41 290.56L771.09 289.32L770.76 288.10L770.42 286.90L770.07 285.72L769.71 284.57L769.34 283.44L768.95 282.33L768.55 281.25L768.14 280.18L767.72 279.13L767.29 278.10L766.85 277.09L766.39 276.09L765.92 275.12L765.45 274.16L764.95 273.22L764.45 272.29L763.94 271.38L763.41 270.49L762.87 269.61L762.32 268.75L761.75 267.90L761.18 267.07L760.59 266.25L759.99 265.45L759.37 264.66L758.75 263.89L758.11 263.13L757.46 262.38L756.79 261.65L756.11 260.93L755.42 260.23L754.72 259.54L754.00 258.86L753.27 258.19L752.52 257.54L751.76 256.90L750.99 256.28L750.20 255.66L749.40 255.06L748.58 254.47L747.75 253.90L746.90 253.33L746.04 252.78L745.16 252.24L744.27 251.71L743.36 251.20L742.43 250.70L741.49 250.20L740.53 249.73L739.56 249.26L738.56 248.80L737.55 248.36L736.52 247.93L735.47 247.51L734.40 247.10L733.32 246.70L732.21 246.31L731.08 245.94L729.93 245.58L728.75 245.23L727.55 244.89L726.33 244.56L725.09 244.24L723.81 243.93L722.51 243.64L721.18 243.36L719.83 243.08L718.44 242.82L717.01 242.57L715.56 242.34L714.06 242.11L712.53 241.89L710.95 241.69L709.33 241.50L707.66 241.31L705.94 241.14L704.16 240.98L702.32 240.83L700.41 240.69L698.42 240.57L696.34 240.45L694.16 240.35L691.86 240.25L689.42 240.17L686.81 240.10L684.00 240.04L680.90 239.99L677.43 239.95L673.36 239.92L668.17 239.91L656.75 239.90" stroke="#ff0000" stroke-width="9.2" stroke-dasharray="7.2 6.53" stroke-dashoffset="0"/>
<path d="M964.30 239.90L952.88 239.91L947.69 239.92L943.62 239.95L940.15 239.99L937.05 240.04L934.24 240.10L931.63 240.17L929.19 240.25L926.89 240.35L924.71 240.45L922.63 240.57L920.64 240.69L918.73 240.83L916.89 240.98L915.11 241.14L913.39 241.31L911.72 241.50L910.10 241.69L908.52 241.89L906.99 242.11L905.49 242.34L904.04 242.57L902.61 242.82L901.22 243.08L899.87 243.36L898.54 243.64L897.24 243.93L895.96 244.24L894.72 244.56L893.50 244.89L892.30 245.23L891.12 245.58L889.97 245.94L888.84 246.31L887.73 246.70L886.65 247.10L885.58 247.51L884.53 247.93L883.50 248.36L882.49 248.80L881.49 249.26L880.52 249.73L879.56 250.20L878.62 250.70L877.69 251.20L876.78 251.71L875.89 252.24L875.01 252.78L874.15 253.33L873.30 253.90L872.47 254.47L871.65 255.06L870.85 255.66L870.06 256.28L869.29 256.90L868.53 257.54L867.78 258.19L867.05 258.86L866.33 259.54L865.63 260.23L864.94 260.93L864.26 261.65L863.59 262.38L862.94 263.13L862.30 263.89L861.68 264.66L861.06 265.45L860.46 266.25L859.87 267.07L859.30 267.90L858.73 268.75L858.18 269.61L857.64 270.49L857.11 271.38L856.60 272.29L856.10 273.22L855.60 274.16L855.13 275.12L854.66 276.09L854.20 277.09L853.76 278.10L853.33 279.13L852.91 280.18L852.50 281.25L852.10 282.33L851.71 283.44L851.34 284.57L850.98 285.72L850.63 286.90L850.29 288.10L849.96 289.32L849.64 290.56L849.33 291.84L849.04 293.14L848.76 294.47L848.48 295.82L848.22 297.21L847.97 298.64L847.74 300.09L847.51 301.59L847.29 303.12L847.09 304.70L846.90 306.32L846.71 307.99L846.54 309.71L846.38 311.49L846.23 313.33L846.09 315.24L845.97 317.23L845.85 319.31L845.75 321.49L845.65 323.79L845.57 326.23L845.50 328.84L845.44 331.65L845.39 334.75L845.35 338.22L845.32 342.29L845.31 347.48L845.30 358.90" stroke="#ff0000" stroke-width="9.2" stroke-dasharray="7.2 6.53" stroke-dashoffset="0"/>
</g>
<rect x="656.75" y="51.55" width="307.54999999999995" height="307.34999999999997" fill="none" stroke="#262626" stroke-width="7.1"/>
<path d="M810.525 51.55v6.55M810.525 358.9v-6.55M656.75 205.225h6.55M964.3 205.225h-6.55" stroke="#262626" stroke-width="7.1" fill="none"/>
<clipPath id="clip1"><rect x="656.75" y="689.8" width="307.54999999999995" height="307.4000000000001"/></clipPath>
<rect x="656.75" y="689.8" width="307.54999999999995" height="307.4000000000001" fill="#fff"/>
<g clip-path="url(#clip1)" fill="none">
<path d="M870.60 843.50L870.57 845.38L870.48 847.27L870.33 849.15L870.13 851.02L869.86 852.89L869.54 854.74L869.16 856.59L868.71 858.42L868.22 860.24L867.66 862.04L867.05 863.82L866.39 865.59L865.67 867.33L864.89 869.05L864.06 870.74L863.18 872.41L862.24 874.04L861.26 875.65L860.22 877.23L859.14 878.77L858.01 880.27L856.83 881.75L855.61 883.18L854.34 884.57L853.03 885.93L851.67 887.24L850.28 888.51L848.85 889.73L847.37 890.91L845.87 892.04L844.33 893.12L842.75 894.16L841.14 895.14L839.51 896.08L837.84 896.96L836.15 897.79L834.43 898.57L832.69 899.29L830.92 899.95L829.14 900.56L827.34 901.12L825.52 901.61L823.69 902.06L821.84 902.44L819.99 902.76L818.12 903.03L816.25 903.23L814.37 903.38L812.48 903.47L810.60 903.50L808.72 903.47L806.83 903.38L804.95 903.23L803.08 903.03L801.21 902.76L799.36 902.44L797.51 902.06L795.68 901.61L793.86 901.12L792.06 900.56L790.28 899.95L788.51 899.29L786.77 898.57L785.05 897.79L783.36 896.96L781.69 896.08L780.06 895.14L778.45 894.16L776.87 893.12L775.33 892.04L773.83 890.91L772.35 889.73L770.92 888.51L769.53 887.24L768.17 885.93L766.86 884.57L765.59 883.18L764.37 881.75L763.19 880.27L762.06 878.77L760.98 877.23L759.94 875.65L758.96 874.04L758.02 872.41L757.14 870.74L756.31 869.05L755.53 867.33L754.81 865.59L754.15 863.82L753.54 862.04L752.98 860.24L752.49 858.42L752.04 856.59L751.66 854.74L751.34 852.89L751.07 851.02L750.87 849.15L750.72 847.27L750.63 845.38L750.60 843.50L750.63 841.62L750.72 839.73L750.87 837.85L751.07 835.98L751.34 834.11L751.66 832.26L752.04 830.41L752.49 828.58L752.98 826.76L753.54 824.96L754.15 823.18L754.81 821.41L755.53 819.67L756.31 817.95L757.14 816.26L758.02 814.59L758.96 812.96L759.94 811.35L760.98 809.77L762.06 808.23L763.19 806.73L764.37 805.25L765.59 803.82L766.86 802.43L768.17 801.07L769.53 799.76L770.92 798.49L772.35 797.27L773.83 796.09L775.33 794.96L776.87 793.88L778.45 792.84L780.06 791.86L781.69 790.92L783.36 790.04L785.05 789.21L786.77 788.43L788.51 787.71L790.28 787.05L792.06 786.44L793.86 785.88L795.68 785.39L797.51 784.94L799.36 784.56L801.21 784.24L803.08 783.97L804.95 783.77L806.83 783.62L808.72 783.53L810.60 783.50L812.48 783.53L814.37 783.62L816.25 783.77L818.12 783.97L819.99 784.24L821.84 784.56L823.69 784.94L825.52 785.39L827.34 785.88L829.14 786.44L830.92 787.05L832.69 787.71L834.43 788.43L836.15 789.21L837.84 790.04L839.51 790.92L841.14 791.86L842.75 792.84L844.33 793.88L845.87 794.96L847.37 796.09L848.85 797.27L850.28 798.49L851.67 799.76L853.03 801.07L854.34 802.43L855.61 803.82L856.83 805.25L858.01 806.73L859.14 808.23L860.22 809.77L861.26 811.35L862.24 812.96L863.18 814.59L864.06 816.26L864.89 817.95L865.67 819.67L866.39 821.41L867.05 823.18L867.66 824.96L868.22 826.76L868.71 828.58L869.16 830.41L869.54 832.26L869.86 834.11L870.13 835.98L870.33 837.85L870.48 839.73L870.57 841.62L870.60 843.50Z" stroke="#0000ff" stroke-width="9.2"/>
<path d="M656.75 814.00L679.43 814.00L686.51 813.98L691.64 813.96L695.81 813.93L699.37 813.90L702.53 813.85L705.37 813.80L707.98 813.73L710.39 813.66L712.64 813.58L714.76 813.49L716.75 813.40L718.65 813.29L720.46 813.18L722.18 813.06L723.83 812.93L725.42 812.79L726.95 812.64L728.43 812.49L729.85 812.32L731.23 812.15L732.56 811.97L733.86 811.78L735.11 811.58L736.33 811.37L737.52 811.16L738.68 810.93L739.80 810.70L740.90 810.45L741.97 810.20L743.01 809.94L744.03 809.67L745.02 809.39L746.00 809.11L746.95 808.81L747.87 808.50L748.78 808.19L749.67 807.86L750.54 807.53L751.39 807.19L752.22 806.84L753.04 806.47L753.83 806.10L754.62 805.72L755.38 805.33L756.13 804.93L756.87 804.52L757.59 804.09L758.29 803.66L758.98 803.22L759.66 802.77L760.32 802.31L760.97 801.83L761.61 801.35L762.23 800.86L762.84 800.35L763.44 799.83L764.03 799.31L764.60 798.77L765.17 798.22L765.72 797.65L766.26 797.08L766.78 796.49L767.30 795.89L767.81 795.28L768.30 794.66L768.78 794.02L769.26 793.37L769.72 792.71L770.17 792.03L770.61 791.34L771.04 790.64L771.47 789.92L771.88 789.18L772.28 788.43L772.67 787.67L773.05 786.88L773.42 786.09L773.79 785.27L774.14 784.44L774.48 783.59L774.81 782.72L775.14 781.83L775.45 780.92L775.76 780.00L776.06 779.05L776.34 778.07L776.62 777.08L776.89 776.06L777.15 775.02L777.40 773.95L777.65 772.85L777.88 771.73L778.11 770.57L778.32 769.38L778.53 768.16L778.73 766.91L778.92 765.61L779.10 764.28L779.27 762.90L779.44 761.48L779.59 760.00L779.74 758.47L779.88 756.88L780.01 755.23L780.13 753.51L780.24 751.70L780.35 749.80L780.44 747.81L780.53 745.69L780.61 743.44L780.68 741.03L780.75 738.42L780.80 735.58L780.85 732.42L780.88 728.86L780.91 724.69L780.93 719.56L780.95 712.48L780.95 689.80" stroke="#ff0000" stroke-width="9.2" stroke-dasharray="7.1 6.446" stroke-dashoffset="0"/>
<path d="M840.10 689.80L840.10 712.48L840.12 719.56L840.14 724.69L840.17 728.86L840.20 732.42L840.25 735.58L840.30 738.42L840.37 741.03L840.44 743.44L840.52 745.69L840.61 747.81L840.70 749.80L840.81 751.70L840.92 753.51L841.04 755.23L841.17 756.88L841.31 758.47L841.46 760.00L841.61 761.48L841.78 762.90L841.95 764.28L842.13 765.61L842.32 766.91L842.52 768.16L842.73 769.38L842.94 770.57L843.17 771.73L843.40 772.85L843.65 773.95L843.90 775.02L844.16 776.06L844.43 777.08L844.71 778.07L844.99 779.05L845.29 780.00L845.60 780.92L845.91 781.83L846.24 782.72L846.57 783.59L846.91 784.44L847.26 785.27L847.63 786.09L848.00 786.88L848.38 787.67L848.77 788.43L849.17 789.18L849.58 789.92L850.01 790.64L850.44 791.34L850.88 792.03L851.33 792.71L851.79 793.37L852.27 794.02L852.75 794.66L853.24 795.28L853.75 795.89L854.27 796.49L854.79 797.08L855.33 797.65L855.88 798.22L856.45 798.77L857.02 799.31L857.61 799.83L858.21 800.35L858.82 800.86L859.44 801.35L860.08 801.83L860.73 802.31L861.39 802.77L862.07 803.22L862.76 803.66L863.46 804.09L864.18 804.52L864.92 804.93L865.67 805.33L866.43 805.72L867.22 806.10L868.01 806.47L868.83 806.84L869.66 807.19L870.51 807.53L871.38 807.86L872.27 808.19L873.18 808.50L874.10 808.81L875.05 809.11L876.03 809.39L877.02 809.67L878.04 809.94L879.08 810.20L880.15 810.45L881.25 810.70L882.37 810.93L883.53 811.16L884.72 811.37L885.94 811.58L887.19 811.78L888.49 811.97L889.82 812.15L891.20 812.32L892.62 812.49L894.10 812.64L895.63 812.79L897.22 812.93L898.87 813.06L900.59 813.18L902.40 813.29L904.30 813.40L906.29 813.49L908.41 813.58L910.66 813.66L913.07 813.73L915.68 813.80L918.52 813.85L921.68 813.90L925.24 813.93L929.41 813.96L934.54 813.98L941.62 814.00L964.30 814.00" stroke="#ff0000" stroke-width="9.2" stroke-dasharray="7.1 6.446" stroke-dashoffset="0"/>
<path d="M780.95 997.20L780.95 974.52L780.93 967.44L780.91 962.31L780.88 958.14L780.85 954.58L780.80 951.42L780.75 948.58L780.68 945.97L780.61 943.56L780.53 941.31L780.44 939.19L780.35 937.20L780.24 935.30L780.13 933.49L780.01 931.77L779.88 930.12L779.74 928.53L779.59 927.00L779.44 925.52L779.27 924.10L779.10 922.72L778.92 921.39L778.73 920.09L778.53 918.84L778.32 917.62L778.11 916.43L777.88 915.27L777.65 914.15L777.40 913.05L777.15 911.98L776.89 910.94L776.62 909.92L776.34 908.93L776.06 907.95L775.76 907.00L775.45 906.08L775.14 905.17L774.81 904.28L774.48 903.41L774.14 902.56L773.79 901.73L773.42 900.91L773.05 900.12L772.67 899.33L772.28 898.57L771.88 897.82L771.47 897.08L771.04 896.36L770.61 895.66L770.17 894.97L769.72 894.29L769.26 893.63L768.78 892.98L768.30 892.34L767.81 891.72L767.30 891.11L766.78 890.51L766.26 889.92L765.72 889.35L765.17 888.78L764.60 888.23L764.03 887.69L763.44 887.17L762.84 886.65L762.23 886.14L761.61 885.65L760.97 885.17L760.32 884.69L759.66 884.23L758.98 883.78L758.29 883.34L757.59 882.91L756.87 882.48L756.13 882.07L755.38 881.67L754.62 881.28L753.83 880.90L753.04 880.53L752.22 880.16L751.39 879.81L750.54 879.47L749.67 879.14L748.78 878.81L747.87 878.50L746.95 878.19L746.00 877.89L745.02 877.61L744.03 877.33L743.01 877.06L741.97 876.80L740.90 876.55L739.80 876.30L738.68 876.07L737.52 875.84L736.33 875.63L735.11 875.42L733.86 875.22L732.56 875.03L731.23 874.85L729.85 874.68L728.43 874.51L726.95 874.36L725.42 874.21L723.83 874.07L722.18 873.94L720.46 873.82L718.65 873.71L716.75 873.60L714.76 873.51L712.64 873.42L710.39 873.34L707.98 873.27L705.37 873.20L702.53 873.15L699.37 873.10L695.81 873.07L691.64 873.04L686.51 873.02L679.43 873.00L656.75 873.00" stroke="#ff0000" stroke-width="9.2" stroke-dasharray="7.1 6.446" stroke-dashoffset="0"/>
<path d="M964.30 873.00L941.62 873.00L934.54 873.02L929.41 873.04L925.24 873.07L921.68 873.10L918.52 873.15L915.68 873.20L913.07 873.27L910.66 873.34L908.41 873.42L906.29 873.51L904.30 873.60L902.40 873.71L900.59 873.82L898.87 873.94L897.22 874.07L895.63 874.21L894.10 874.36L892.62 874.51L891.20 874.68L889.82 874.85L888.49 875.03L887.19 875.22L885.94 875.42L884.72 875.63L883.53 875.84L882.37 876.07L881.25 876.30L880.15 876.55L879.08 876.80L878.04 877.06L877.02 877.33L876.03 877.61L875.05 877.89L874.10 878.19L873.18 878.50L872.27 878.81L871.38 879.14L870.51 879.47L869.66 879.81L868.83 880.16L868.01 880.53L867.22 880.90L866.43 881.28L865.67 881.67L864.92 882.07L864.18 882.48L863.46 882.91L862.76 883.34L862.07 883.78L861.39 884.23L860.73 884.69L860.08 885.17L859.44 885.65L858.82 886.14L858.21 886.65L857.61 887.17L857.02 887.69L856.45 888.23L855.88 888.78L855.33 889.35L854.79 889.92L854.27 890.51L853.75 891.11L853.24 891.72L852.75 892.34L852.27 892.98L851.79 893.63L851.33 894.29L850.88 894.97L850.44 895.66L850.01 896.36L849.58 897.08L849.17 897.82L848.77 898.57L848.38 899.33L848.00 900.12L847.63 900.91L847.26 901.73L846.91 902.56L846.57 903.41L846.24 904.28L845.91 905.17L845.60 906.08L845.29 907.00L844.99 907.95L844.71 908.93L844.43 909.92L844.16 910.94L843.90 911.98L843.65 913.05L843.40 914.15L843.17 915.27L842.94 916.43L842.73 917.62L842.52 918.84L842.32 920.09L842.13 921.39L841.95 922.72L841.78 924.10L841.61 925.52L841.46 927.00L841.31 928.53L841.17 930.12L841.04 931.77L840.92 933.49L840.81 935.30L840.70 937.20L840.61 939.19L840.52 941.31L840.44 943.56L840.37 945.97L840.30 948.58L840.25 951.42L840.20 954.58L840.17 958.14L840.14 962.31L840.12 967.44L840.10 974.52L840.10 997.20" stroke="#ff0000" stroke-width="9.2" stroke-dasharray="7.1 6.446" stroke-dashoffset="0"/>
</g>
<rect x="656.75" y="689.8" width="307.54999999999995" height="307.4000000000001" fill="none" stroke="#262626" stroke-width="7.0"/>
<path d="M810.525 689.8v6.5M810.525 997.2v-6.5M656.75 843.5h6.5M964.3 843.5h-6.5" stroke="#262626" stroke-width="7.0" fill="none"/>
<g font-family="Liberation Sans, sans-serif" fill="#000">
<text x="9.9" y="32.8" font-size="44">(a)</text>
<text x="9.9" y="670.4" font-size="44">(b)</text>
</g>
<g transform="translate(28.7 365.5) rotate(-90)" font-family="Liberation Sans, sans-serif" fill="#262626">
<text x="0" y="0" font-size="40.5">T</text>
<text x="26.4" y="18.1" font-size="32.5">c</text>
<text x="46.6" y="0" font-size="40.5">/</text>
<text x="58.9" y="0" font-size="40.5">T</text>
<text x="85.0" y="18.1" font-size="32.5">c</text>
<text x="100.2" y="18.1" font-size="32.5">0</text>
</g>
<g transform="translate(28.7 1004.0) rotate(-90)" font-family="Liberation Sans, sans-serif" fill="#262626">
<text x="0" y="0" font-size="40.5">T</text>
<text x="26.4" y="18.1" font-size="32.5">c</text>
<text x="46.6" y="0" font-size="40.5">/</text>
<text x="58.9" y="0" font-size="40.5">T</text>
<text x="85.0" y="18.1" font-size="32.5">c</text>
<text x="100.2" y="18.1" font-size="32.5">0</text>
</g>
<text transform="matrix(0.5021 0 0 0.3863 415.44 1311.90)" font-family="Liberation Serif, serif" font-style="italic" font-size="100" fill="#262626">n</text>
<text transform="matrix(0.2866 0 0 0.2839 439.10 1316.70)" font-family="Liberation Serif, serif" font-style="italic" font-size="100" fill="#262626">i</text>
<text transform="matrix(0.3245 0 0 0.2653 446.43 1316.70)" font-family="Liberation Serif, serif" font-style="italic" font-size="100" fill="#262626">m</text>
<text transform="matrix(0.3369 0 0 0.2719 469.47 1317.01)" font-family="Liberation Serif, serif" font-style="italic" font-size="100" fill="#262626">p</text>
<text transform="matrix(0.4865 0 0 0.4239 487.69 1311.76)" font-family="Liberation Serif, serif" font-style="italic" font-size="100" fill="#262626">W</text>
<text transform="matrix(0.2619 0 0 0.2537 531.55 1294.70)" font-family="Liberation Serif, serif" font-size="100" fill="#262626">2</text>
<text transform="matrix(0.5162 0 0 0.4276 548.88 1311.60)" font-family="Liberation Serif, serif" font-style="italic" font-size="100" fill="#262626">N</text>
<text transform="matrix(0.3465 0 0 0.4654 585.88 1312.29)" font-family="Liberation Serif, serif" font-size="100" fill="#262626">(</text>
<text transform="matrix(0.4223 0 0 0.4298 597.29 1311.98)" font-family="Liberation Serif, serif" font-size="100" fill="#262626">0</text>
<text transform="matrix(0.3504 0 0 0.4654 618.27 1312.29)" font-family="Liberation Serif, serif" font-size="100" fill="#262626">)</text>
<text transform="matrix(0.6119 0 0 0.6308 635.60 1321.58)" font-family="Liberation Serif, serif" font-size="100" fill="#262626">/</text>
<text transform="matrix(0.4965 0 0 0.4246 652.45 1311.60)" font-family="Liberation Serif, serif" font-style="italic" font-size="100" fill="#262626">T</text>
<text transform="matrix(0.2635 0 0 0.2682 677.09 1317.54)" font-family="Liberation Serif, serif" font-style="italic" font-size="100" fill="#262626">c</text>
<text transform="matrix(0.2619 0 0 0.2534 689.20 1317.65)" font-family="Liberation Serif, serif" font-size="100" fill="#262626">0</text>
<text transform="matrix(0.4651 0 0 0.3984 749.11 215.69)" font-family="Liberation Serif, serif" font-style="italic" font-size="100" fill="#0000ff">α</text>
<text transform="matrix(0.4603 0 0 0.4133 897.74 158.10)" font-family="Liberation Serif, serif" font-style="italic" font-size="100" fill="#ff0000">β</text>
<g fill="none" stroke="#0000ff" stroke-linecap="round" stroke-linejoin="round"><path d="M928.6 87.6C930.6 83.6 933 81.3 935.8 81.3C939.6 81.3 941.8 86 942.5 92" stroke-width="2.7"/><path d="M942.5 92C942.7 96 941.2 102 940.2 106.4" stroke-width="2.0"/><path d="M949.1 80.7L942.6 94.5" stroke-width="1.5"/></g>
<text transform="matrix(0.4592 0 0 0.3963 761.53 853.59)" font-family="Liberation Serif, serif" font-style="italic" font-size="100" fill="#0000ff">α</text>
<text transform="matrix(0.4701 0 0 0.4133 911.66 799.20)" font-family="Liberation Serif, serif" font-style="italic" font-size="100" fill="#ff0000">β</text>
<text transform="matrix(0.2122 0 0 0.1633 473.10 70.90)" font-family="Liberation Sans, sans-serif" font-size="100" fill="#000">2</text>
<text transform="matrix(0.2122 0 0 0.1633 513.95 70.90)" font-family="Liberation Sans, sans-serif" font-size="100" fill="#000">2</text>
</svg></body></html>
